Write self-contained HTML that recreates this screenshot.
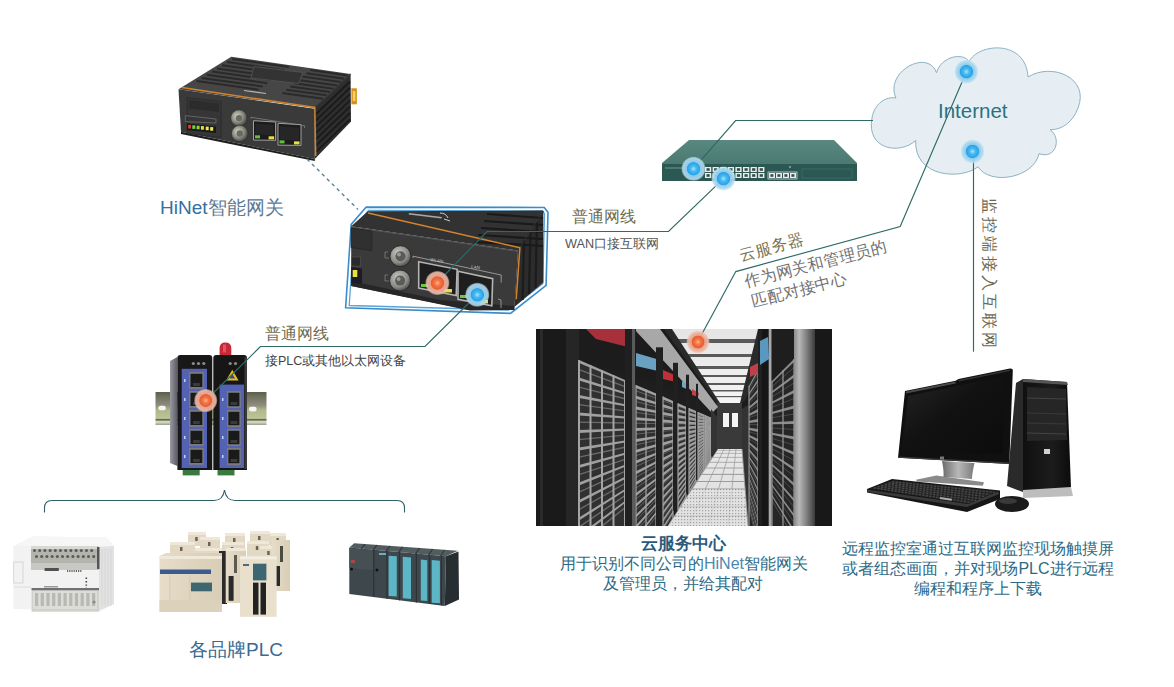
<!DOCTYPE html>
<html><head><meta charset="utf-8">
<style>
html,body{margin:0;padding:0;background:#fff;}
body{width:1174px;height:687px;position:relative;overflow:hidden;font-family:"Liberation Sans",sans-serif;}
.t{position:absolute;white-space:nowrap;line-height:1;}
svg{position:absolute;left:0;top:0;}
</style></head><body>
<svg width="1174" height="687" viewBox="0 0 1174 687">
<defs>
<radialGradient id="bd" cx="50%" cy="50%" r="50%">
<stop offset="0" stop-color="#a8e4f8"/><stop offset="0.25" stop-color="#44b8f0"/><stop offset="0.52" stop-color="#2aa2e8"/><stop offset="0.58" stop-color="#8ccbea"/><stop offset="0.88" stop-color="#b4dcf0" stop-opacity="0.9"/><stop offset="1" stop-color="#c8e6f4" stop-opacity="0.4"/>
</radialGradient>
<radialGradient id="rd" cx="50%" cy="50%" r="50%">
<stop offset="0" stop-color="#f8b488"/><stop offset="0.25" stop-color="#f27444"/><stop offset="0.52" stop-color="#ea5c30"/><stop offset="0.58" stop-color="#e8a08a"/><stop offset="0.88" stop-color="#f0bcac" stop-opacity="0.9"/><stop offset="1" stop-color="#f4d0c4" stop-opacity="0.4"/>
</radialGradient>
</defs>

<!-- cloud -->
<path d="M896,98 C884,72 928,48 936.5,72.8 C941,56 964,52 969,61.8 C978,43 1026,39 1028,77 C1052,62 1090,78 1078,108 C1072,124 1060,130 1050,129.6 C1062,138 1056,160 1039,153.6 C1034,178 990,186 978,166.7 C962,180 914,178 915.7,140.5 C900,155 866,150 872,118 C874,104 886,96 896,98 Z" fill="#e6eef4" stroke="#8cb2c2" stroke-width="1"/>
<!-- brace -->
<path d="M44.5,512.5 L44.5,508 Q44.5,500.5 52,500.5 L214,500.5 Q223,500.5 224.5,490 Q226,500.5 235,500.5 L397,500.5 Q404.5,500.5 404.5,508 L404.5,512.5" fill="none" stroke="#2f6068" stroke-width="1.1"/>

<g transform="translate(536,329)">
<defs><clipPath id="sc"><rect x="0" y="0" width="296" height="197"/></clipPath><linearGradient id="ceil" x1="0" y1="0" x2="0" y2="1"><stop offset="0" stop-color="#e4e4e4"/><stop offset="1" stop-color="#f4f4f4"/></linearGradient><linearGradient id="flr" x1="0" y1="0" x2="0" y2="1"><stop offset="0" stop-color="#e8e8e8"/><stop offset="1" stop-color="#dcdcdc"/></linearGradient><pattern id="perf" width="3" height="3" patternUnits="userSpaceOnUse"><rect width="3" height="3" fill="#e4e4e4"/><rect x="1" y="1" width="1.2" height="1.2" fill="#8a8a8a"/></pattern><linearGradient id="lcol" x1="0" y1="0" x2="1" y2="0"><stop offset="0" stop-color="#8a8a8a"/><stop offset="0.25" stop-color="#b8b8b8"/><stop offset="0.6" stop-color="#808080"/><stop offset="1" stop-color="#3a3a3a"/></linearGradient></defs>
<g clip-path="url(#sc)">
<rect x="0" y="0" width="296" height="197" fill="#1e1e1e"/>
<polygon points="128,0 232,0 206,74 181,74" fill="url(#ceil)"/>
<rect x="135.2" y="10" width="93.3" height="4" fill="#5a5a5a"/>
<rect x="145.9" y="25" width="77.3" height="3" fill="#5a5a5a"/>
<rect x="154.5" y="37" width="64.5" height="3" fill="#5a5a5a"/>
<rect x="160.9" y="46" width="54.9" height="2" fill="#5a5a5a"/>
<rect x="166.7" y="54" width="46.4" height="2" fill="#5a5a5a"/>
<rect x="171.7" y="61" width="38.9" height="1.5" fill="#5a5a5a"/>
<rect x="176.0" y="67" width="32.5" height="1.2" fill="#5a5a5a"/>
<polygon points="124,0 136,0 184,74 181,76" fill="#2a2a2a"/>
<polygon points="222,0 236,0 208,74 204,74" fill="#2a2a2a"/>
<rect x="181" y="74" width="25" height="46" fill="#3a3a3a"/>
<rect x="187" y="84" width="6" height="14" fill="#f4f4f4"/><rect x="196" y="84" width="6" height="14" fill="#f4f4f4"/>
<rect x="0" y="0" width="43" height="197" fill="#1a1a1a"/>
<rect x="30" y="0" width="13" height="197" fill="#262626"/>
<rect x="4" y="0" width="3" height="197" fill="#2a2a2a"/>
<polygon points="43,0 128,0 181,74 43,30" fill="#1c1c1c"/>
<polygon points="98,0 124,0 182,78 176,84" fill="#a8a8a8"/>
<polygon points="50,0 95,0 92,18 60,10" fill="#a8303a"/>
<polygon points="100,24 124,31 122,42 100,37" fill="#6aa0c0"/>
<polygon points="127,41 141,47 140,53 127,50" fill="#c03038"/>
<polygon points="146,52 154,56 153,61 146,58" fill="#70a8c0"/>
<polygon points="156,60 163,64 162,68 156,66" fill="#c04048"/>
<polygon points="43,31.0 89,51.1 89,200.0 43,200.0" fill="#303030"/>
<polygon points="43,31.0 89,51.1 89,53.1 43,34.0" fill="#a0a0a0"/>
<line x1="43" y1="40.6" x2="89" y2="57.7" stroke="#6a6a6a" stroke-width="1.40"/>
<polygon points="43,48.5 89,63.2 89,65.2 43,51.5" fill="#a0a0a0"/>
<line x1="43" y1="58.1" x2="89" y2="69.8" stroke="#6a6a6a" stroke-width="1.40"/>
<polygon points="43,66.0 89,75.3 89,77.3 43,69.0" fill="#a0a0a0"/>
<line x1="43" y1="75.6" x2="89" y2="81.9" stroke="#6a6a6a" stroke-width="1.40"/>
<polygon points="43,83.5 89,87.4 89,89.4 43,86.5" fill="#a0a0a0"/>
<line x1="43" y1="93.1" x2="89" y2="94.0" stroke="#6a6a6a" stroke-width="1.40"/>
<polygon points="43,101.0 89,99.5 89,101.5 43,104.0" fill="#a0a0a0"/>
<line x1="43" y1="110.6" x2="89" y2="106.1" stroke="#6a6a6a" stroke-width="1.40"/>
<polygon points="43,118.5 89,111.6 89,113.6 43,121.5" fill="#a0a0a0"/>
<line x1="43" y1="128.1" x2="89" y2="118.2" stroke="#6a6a6a" stroke-width="1.40"/>
<polygon points="43,136.0 89,123.7 89,125.7 43,139.0" fill="#a0a0a0"/>
<line x1="43" y1="145.6" x2="89" y2="130.3" stroke="#6a6a6a" stroke-width="1.40"/>
<polygon points="43,153.5 89,135.7 89,137.8 43,156.5" fill="#a0a0a0"/>
<line x1="43" y1="163.1" x2="89" y2="142.4" stroke="#6a6a6a" stroke-width="1.40"/>
<polygon points="43,171.0 89,147.8 89,149.9 43,174.0" fill="#a0a0a0"/>
<line x1="43" y1="180.6" x2="89" y2="154.5" stroke="#6a6a6a" stroke-width="1.40"/>
<polygon points="43,188.5 89,159.9 89,162.0 43,191.5" fill="#a0a0a0"/>
<line x1="43" y1="198.1" x2="89" y2="166.6" stroke="#6a6a6a" stroke-width="1.40"/>
<polygon points="43,206.0 89,172.0 89,174.1 43,209.0" fill="#a0a0a0"/>
<line x1="43" y1="215.6" x2="89" y2="178.7" stroke="#6a6a6a" stroke-width="1.40"/>
<line x1="43.0" y1="31.0" x2="43.0" y2="200.0" stroke="#a4a4a4" stroke-width="2.0"/>
<line x1="54.5" y1="36.0" x2="54.5" y2="200.0" stroke="#a4a4a4" stroke-width="2.0"/>
<line x1="66.0" y1="41.0" x2="66.0" y2="200.0" stroke="#a4a4a4" stroke-width="2.0"/>
<line x1="77.5" y1="46.1" x2="77.5" y2="200.0" stroke="#a4a4a4" stroke-width="2.0"/>
<line x1="89.0" y1="51.1" x2="89.0" y2="200.0" stroke="#a4a4a4" stroke-width="2.0"/>
<rect x="89" y="0.0" width="11" height="200.0" fill="#202020"/>
<rect x="96" y="0.0" width="3" height="200.0" fill="#5a5a5a"/>
<polygon points="100,55.9 120,64.6 120,200.0 100,200.0" fill="#303030"/>
<polygon points="100,55.9 120,64.6 120,66.9 100,58.9" fill="#a0a0a0"/>
<line x1="100" y1="61.8" x2="120" y2="69.2" stroke="#6a6a6a" stroke-width="0.86"/>
<polygon points="100,66.7 120,73.0 120,75.4 100,69.7" fill="#a0a0a0"/>
<line x1="100" y1="72.6" x2="120" y2="77.7" stroke="#6a6a6a" stroke-width="0.86"/>
<polygon points="100,77.5 120,81.5 120,83.9 100,80.5" fill="#a0a0a0"/>
<line x1="100" y1="83.4" x2="120" y2="86.2" stroke="#6a6a6a" stroke-width="0.86"/>
<polygon points="100,88.3 120,90.0 120,92.3 100,91.3" fill="#a0a0a0"/>
<line x1="100" y1="94.2" x2="120" y2="94.6" stroke="#6a6a6a" stroke-width="0.86"/>
<polygon points="100,99.1 120,98.4 120,100.8 100,102.1" fill="#a0a0a0"/>
<line x1="100" y1="105.0" x2="120" y2="103.1" stroke="#6a6a6a" stroke-width="0.86"/>
<polygon points="100,109.9 120,106.9 120,109.2 100,112.9" fill="#a0a0a0"/>
<line x1="100" y1="115.8" x2="120" y2="111.5" stroke="#6a6a6a" stroke-width="0.86"/>
<polygon points="100,120.7 120,115.3 120,117.7 100,123.7" fill="#a0a0a0"/>
<line x1="100" y1="126.6" x2="120" y2="120.0" stroke="#6a6a6a" stroke-width="0.86"/>
<polygon points="100,131.5 120,123.8 120,126.1 100,134.5" fill="#a0a0a0"/>
<line x1="100" y1="137.4" x2="120" y2="128.4" stroke="#6a6a6a" stroke-width="0.86"/>
<polygon points="100,142.3 120,132.2 120,134.6 100,145.3" fill="#a0a0a0"/>
<line x1="100" y1="148.3" x2="120" y2="136.9" stroke="#6a6a6a" stroke-width="0.86"/>
<polygon points="100,153.1 120,140.7 120,143.0 100,156.1" fill="#a0a0a0"/>
<line x1="100" y1="159.1" x2="120" y2="145.3" stroke="#6a6a6a" stroke-width="0.86"/>
<polygon points="100,163.9 120,149.2 120,151.5 100,166.9" fill="#a0a0a0"/>
<line x1="100" y1="169.9" x2="120" y2="153.8" stroke="#6a6a6a" stroke-width="0.86"/>
<polygon points="100,174.7 120,157.6 120,160.0 100,177.7" fill="#a0a0a0"/>
<line x1="100" y1="180.7" x2="120" y2="162.3" stroke="#6a6a6a" stroke-width="0.86"/>
<polygon points="100,185.5 120,166.1 120,168.4 100,188.5" fill="#a0a0a0"/>
<line x1="100" y1="191.5" x2="120" y2="170.7" stroke="#6a6a6a" stroke-width="0.86"/>
<polygon points="100,196.3 120,174.5 120,176.9 100,199.3" fill="#a0a0a0"/>
<line x1="100" y1="202.3" x2="120" y2="179.2" stroke="#6a6a6a" stroke-width="0.86"/>
<polygon points="100,207.1 120,183.0 120,185.3 100,210.1" fill="#a0a0a0"/>
<line x1="100" y1="213.1" x2="120" y2="187.6" stroke="#6a6a6a" stroke-width="0.86"/>
<line x1="100.0" y1="55.9" x2="100.0" y2="200.0" stroke="#a4a4a4" stroke-width="1.2"/>
<line x1="110.0" y1="60.2" x2="110.0" y2="200.0" stroke="#a4a4a4" stroke-width="1.2"/>
<line x1="120.0" y1="64.6" x2="120.0" y2="200.0" stroke="#a4a4a4" stroke-width="1.2"/>
<rect x="120" y="18.3" width="7" height="181.7" fill="#202020"/>
<polygon points="127,67.6 137,72.0 137,189.3 127,200.0" fill="#303030"/>
<polygon points="127,67.6 137,72.0 137,74.5 127,70.6" fill="#a0a0a0"/>
<line x1="127" y1="71.8" x2="137" y2="75.6" stroke="#6a6a6a" stroke-width="0.61"/>
<polygon points="127,75.3 137,78.5 137,81.0 127,78.3" fill="#a0a0a0"/>
<line x1="127" y1="79.5" x2="137" y2="82.0" stroke="#6a6a6a" stroke-width="0.61"/>
<polygon points="127,82.9 137,84.9 137,87.5 127,85.9" fill="#a0a0a0"/>
<line x1="127" y1="87.1" x2="137" y2="88.5" stroke="#6a6a6a" stroke-width="0.61"/>
<polygon points="127,90.5 137,91.4 137,93.9 127,93.5" fill="#a0a0a0"/>
<line x1="127" y1="94.7" x2="137" y2="94.9" stroke="#6a6a6a" stroke-width="0.61"/>
<polygon points="127,98.2 137,97.8 137,100.4 127,101.2" fill="#a0a0a0"/>
<line x1="127" y1="102.4" x2="137" y2="101.4" stroke="#6a6a6a" stroke-width="0.61"/>
<polygon points="127,105.8 137,104.3 137,106.8 127,108.8" fill="#a0a0a0"/>
<line x1="127" y1="110.0" x2="137" y2="107.9" stroke="#6a6a6a" stroke-width="0.61"/>
<polygon points="127,113.4 137,110.8 137,113.3 127,116.4" fill="#a0a0a0"/>
<line x1="127" y1="117.6" x2="137" y2="114.3" stroke="#6a6a6a" stroke-width="0.61"/>
<polygon points="127,121.1 137,117.2 137,119.8 127,124.1" fill="#a0a0a0"/>
<line x1="127" y1="125.3" x2="137" y2="120.8" stroke="#6a6a6a" stroke-width="0.61"/>
<polygon points="127,128.7 137,123.7 137,126.2 127,131.7" fill="#a0a0a0"/>
<line x1="127" y1="132.9" x2="137" y2="127.2" stroke="#6a6a6a" stroke-width="0.61"/>
<polygon points="127,136.4 137,130.1 137,132.7 127,139.4" fill="#a0a0a0"/>
<line x1="127" y1="140.6" x2="137" y2="133.7" stroke="#6a6a6a" stroke-width="0.61"/>
<polygon points="127,144.0 137,136.6 137,139.1 127,147.0" fill="#a0a0a0"/>
<line x1="127" y1="148.2" x2="137" y2="140.2" stroke="#6a6a6a" stroke-width="0.61"/>
<polygon points="127,151.6 137,143.1 137,145.6 127,154.6" fill="#a0a0a0"/>
<line x1="127" y1="155.8" x2="137" y2="146.6" stroke="#6a6a6a" stroke-width="0.61"/>
<polygon points="127,159.3 137,149.5 137,152.1 127,162.3" fill="#a0a0a0"/>
<line x1="127" y1="163.5" x2="137" y2="153.1" stroke="#6a6a6a" stroke-width="0.61"/>
<polygon points="127,166.9 137,156.0 137,158.5 127,169.9" fill="#a0a0a0"/>
<line x1="127" y1="171.1" x2="137" y2="159.5" stroke="#6a6a6a" stroke-width="0.61"/>
<polygon points="127,174.5 137,162.4 137,165.0 127,177.5" fill="#a0a0a0"/>
<line x1="127" y1="178.7" x2="137" y2="166.0" stroke="#6a6a6a" stroke-width="0.61"/>
<polygon points="127,182.2 137,168.9 137,171.4 127,185.2" fill="#a0a0a0"/>
<line x1="127" y1="186.4" x2="137" y2="172.5" stroke="#6a6a6a" stroke-width="0.61"/>
<polygon points="127,189.8 137,175.4 137,177.9 127,192.8" fill="#a0a0a0"/>
<line x1="127" y1="194.0" x2="137" y2="178.9" stroke="#6a6a6a" stroke-width="0.61"/>
<polygon points="127,197.4 137,181.8 137,184.4 127,200.4" fill="#a0a0a0"/>
<line x1="127" y1="201.6" x2="137" y2="185.4" stroke="#6a6a6a" stroke-width="0.61"/>
<polygon points="127,205.1 137,188.3 137,190.8 127,208.1" fill="#a0a0a0"/>
<line x1="127" y1="209.3" x2="137" y2="191.8" stroke="#6a6a6a" stroke-width="0.61"/>
<polygon points="127,212.7 137,194.7 137,197.3 127,215.7" fill="#a0a0a0"/>
<line x1="127" y1="216.9" x2="137" y2="198.3" stroke="#6a6a6a" stroke-width="0.61"/>
<line x1="127.0" y1="67.6" x2="127.0" y2="200.0" stroke="#a4a4a4" stroke-width="1.2"/>
<line x1="137.0" y1="72.0" x2="137.0" y2="189.3" stroke="#a4a4a4" stroke-width="1.2"/>
<rect x="137" y="33.8" width="5" height="147.8" fill="#202020"/>
<polygon points="142,74.2 150,77.7 150,169.3 142,181.6" fill="#303030"/>
<polygon points="142,74.2 150,77.7 150,80.2 142,77.2" fill="#a0a0a0"/>
<line x1="142" y1="77.4" x2="150" y2="80.4" stroke="#6a6a6a" stroke-width="0.47"/>
<polygon points="142,80.1 150,82.6 150,85.1 142,83.1" fill="#a0a0a0"/>
<line x1="142" y1="83.3" x2="150" y2="85.3" stroke="#6a6a6a" stroke-width="0.47"/>
<polygon points="142,85.9 150,87.5 150,90.1 142,88.9" fill="#a0a0a0"/>
<line x1="142" y1="89.2" x2="150" y2="90.3" stroke="#6a6a6a" stroke-width="0.47"/>
<polygon points="142,91.8 150,92.5 150,95.0 142,94.8" fill="#a0a0a0"/>
<line x1="142" y1="95.0" x2="150" y2="95.2" stroke="#6a6a6a" stroke-width="0.47"/>
<polygon points="142,97.7 150,97.4 150,99.9 142,100.7" fill="#a0a0a0"/>
<line x1="142" y1="100.9" x2="150" y2="100.1" stroke="#6a6a6a" stroke-width="0.47"/>
<polygon points="142,103.6 150,102.3 150,104.9 142,106.6" fill="#a0a0a0"/>
<line x1="142" y1="106.8" x2="150" y2="105.1" stroke="#6a6a6a" stroke-width="0.47"/>
<polygon points="142,109.4 150,107.3 150,109.8 142,112.4" fill="#a0a0a0"/>
<line x1="142" y1="112.7" x2="150" y2="110.0" stroke="#6a6a6a" stroke-width="0.47"/>
<polygon points="142,115.3 150,112.2 150,114.7 142,118.3" fill="#a0a0a0"/>
<line x1="142" y1="118.5" x2="150" y2="114.9" stroke="#6a6a6a" stroke-width="0.47"/>
<polygon points="142,121.2 150,117.1 150,119.7 142,124.2" fill="#a0a0a0"/>
<line x1="142" y1="124.4" x2="150" y2="119.9" stroke="#6a6a6a" stroke-width="0.47"/>
<polygon points="142,127.0 150,122.1 150,124.6 142,130.0" fill="#a0a0a0"/>
<line x1="142" y1="130.3" x2="150" y2="124.8" stroke="#6a6a6a" stroke-width="0.47"/>
<polygon points="142,132.9 150,127.0 150,129.5 142,135.9" fill="#a0a0a0"/>
<line x1="142" y1="136.1" x2="150" y2="129.7" stroke="#6a6a6a" stroke-width="0.47"/>
<polygon points="142,138.8 150,131.9 150,134.5 142,141.8" fill="#a0a0a0"/>
<line x1="142" y1="142.0" x2="150" y2="134.7" stroke="#6a6a6a" stroke-width="0.47"/>
<polygon points="142,144.7 150,136.9 150,139.4 142,147.7" fill="#a0a0a0"/>
<line x1="142" y1="147.9" x2="150" y2="139.6" stroke="#6a6a6a" stroke-width="0.47"/>
<polygon points="142,150.5 150,141.8 150,144.3 142,153.5" fill="#a0a0a0"/>
<line x1="142" y1="153.8" x2="150" y2="144.5" stroke="#6a6a6a" stroke-width="0.47"/>
<polygon points="142,156.4 150,146.7 150,149.3 142,159.4" fill="#a0a0a0"/>
<line x1="142" y1="159.6" x2="150" y2="149.5" stroke="#6a6a6a" stroke-width="0.47"/>
<polygon points="142,162.3 150,151.7 150,154.2 142,165.3" fill="#a0a0a0"/>
<line x1="142" y1="165.5" x2="150" y2="154.4" stroke="#6a6a6a" stroke-width="0.47"/>
<polygon points="142,168.1 150,156.6 150,159.1 142,171.1" fill="#a0a0a0"/>
<line x1="142" y1="171.4" x2="150" y2="159.3" stroke="#6a6a6a" stroke-width="0.47"/>
<polygon points="142,174.0 150,161.5 150,164.1 142,177.0" fill="#a0a0a0"/>
<line x1="142" y1="177.2" x2="150" y2="164.2" stroke="#6a6a6a" stroke-width="0.47"/>
<polygon points="142,179.9 150,166.5 150,169.0 142,182.9" fill="#a0a0a0"/>
<line x1="142" y1="183.1" x2="150" y2="169.2" stroke="#6a6a6a" stroke-width="0.47"/>
<polygon points="142,185.8 150,171.4 150,173.9 142,188.8" fill="#a0a0a0"/>
<line x1="142" y1="189.0" x2="150" y2="174.1" stroke="#6a6a6a" stroke-width="0.47"/>
<polygon points="142,191.6 150,176.3 150,178.9 142,194.6" fill="#a0a0a0"/>
<line x1="142" y1="194.9" x2="150" y2="179.0" stroke="#6a6a6a" stroke-width="0.47"/>
<polygon points="142,197.5 150,181.3 150,183.8 142,200.5" fill="#a0a0a0"/>
<line x1="142" y1="200.7" x2="150" y2="184.0" stroke="#6a6a6a" stroke-width="0.47"/>
<polygon points="142,203.4 150,186.2 150,188.7 142,206.4" fill="#a0a0a0"/>
<line x1="142" y1="206.6" x2="150" y2="188.9" stroke="#6a6a6a" stroke-width="0.47"/>
<polygon points="142,209.3 150,191.1 150,193.7 142,212.3" fill="#a0a0a0"/>
<line x1="142" y1="212.5" x2="150" y2="193.8" stroke="#6a6a6a" stroke-width="0.47"/>
<line x1="142.0" y1="74.2" x2="142.0" y2="181.6" stroke="#a4a4a4" stroke-width="1.2"/>
<line x1="150.0" y1="77.7" x2="150.0" y2="169.3" stroke="#a4a4a4" stroke-width="1.2"/>
<rect x="150" y="45.7" width="3" height="119.0" fill="#202020"/>
<polygon points="153,79.0 160,82.0 160,153.9 153,164.7" fill="#303030"/>
<polygon points="153,79.0 160,82.0 160,84.5 153,82.0" fill="#a0a0a0"/>
<line x1="153" y1="81.5" x2="160" y2="84.1" stroke="#6a6a6a" stroke-width="0.37"/>
<polygon points="153,83.6 160,85.8 160,88.3 153,86.6" fill="#a0a0a0"/>
<line x1="153" y1="86.1" x2="160" y2="87.9" stroke="#6a6a6a" stroke-width="0.37"/>
<polygon points="153,88.1 160,89.6 160,92.0 153,91.1" fill="#a0a0a0"/>
<line x1="153" y1="90.7" x2="160" y2="91.6" stroke="#6a6a6a" stroke-width="0.37"/>
<polygon points="153,92.7 160,93.3 160,95.8 153,95.7" fill="#a0a0a0"/>
<line x1="153" y1="95.2" x2="160" y2="95.4" stroke="#6a6a6a" stroke-width="0.37"/>
<polygon points="153,97.3 160,97.1 160,99.5 153,100.3" fill="#a0a0a0"/>
<line x1="153" y1="99.8" x2="160" y2="99.1" stroke="#6a6a6a" stroke-width="0.37"/>
<polygon points="153,101.9 160,100.8 160,103.3 153,104.9" fill="#a0a0a0"/>
<line x1="153" y1="104.4" x2="160" y2="102.9" stroke="#6a6a6a" stroke-width="0.37"/>
<polygon points="153,106.5 160,104.6 160,107.1 153,109.5" fill="#a0a0a0"/>
<line x1="153" y1="109.0" x2="160" y2="106.7" stroke="#6a6a6a" stroke-width="0.37"/>
<polygon points="153,111.1 160,108.3 160,110.8 153,114.1" fill="#a0a0a0"/>
<line x1="153" y1="113.6" x2="160" y2="110.4" stroke="#6a6a6a" stroke-width="0.37"/>
<polygon points="153,115.6 160,112.1 160,114.6 153,118.6" fill="#a0a0a0"/>
<line x1="153" y1="118.2" x2="160" y2="114.2" stroke="#6a6a6a" stroke-width="0.37"/>
<polygon points="153,120.2 160,115.9 160,118.3 153,123.2" fill="#a0a0a0"/>
<line x1="153" y1="122.7" x2="160" y2="117.9" stroke="#6a6a6a" stroke-width="0.37"/>
<polygon points="153,124.8 160,119.6 160,122.1 153,127.8" fill="#a0a0a0"/>
<line x1="153" y1="127.3" x2="160" y2="121.7" stroke="#6a6a6a" stroke-width="0.37"/>
<polygon points="153,129.4 160,123.4 160,125.8 153,132.4" fill="#a0a0a0"/>
<line x1="153" y1="131.9" x2="160" y2="125.4" stroke="#6a6a6a" stroke-width="0.37"/>
<polygon points="153,134.0 160,127.1 160,129.6 153,137.0" fill="#a0a0a0"/>
<line x1="153" y1="136.5" x2="160" y2="129.2" stroke="#6a6a6a" stroke-width="0.37"/>
<polygon points="153,138.5 160,130.9 160,133.4 153,141.5" fill="#a0a0a0"/>
<line x1="153" y1="141.1" x2="160" y2="133.0" stroke="#6a6a6a" stroke-width="0.37"/>
<polygon points="153,143.1 160,134.7 160,137.1 153,146.1" fill="#a0a0a0"/>
<line x1="153" y1="145.6" x2="160" y2="136.7" stroke="#6a6a6a" stroke-width="0.37"/>
<polygon points="153,147.7 160,138.4 160,140.9 153,150.7" fill="#a0a0a0"/>
<line x1="153" y1="150.2" x2="160" y2="140.5" stroke="#6a6a6a" stroke-width="0.37"/>
<polygon points="153,152.3 160,142.2 160,144.6 153,155.3" fill="#a0a0a0"/>
<line x1="153" y1="154.8" x2="160" y2="144.2" stroke="#6a6a6a" stroke-width="0.37"/>
<polygon points="153,156.9 160,145.9 160,148.4 153,159.9" fill="#a0a0a0"/>
<line x1="153" y1="159.4" x2="160" y2="148.0" stroke="#6a6a6a" stroke-width="0.37"/>
<polygon points="153,161.4 160,149.7 160,152.2 153,164.4" fill="#a0a0a0"/>
<line x1="153" y1="164.0" x2="160" y2="151.8" stroke="#6a6a6a" stroke-width="0.37"/>
<polygon points="153,166.0 160,153.4 160,155.9 153,169.0" fill="#a0a0a0"/>
<line x1="153" y1="168.5" x2="160" y2="155.5" stroke="#6a6a6a" stroke-width="0.37"/>
<polygon points="153,170.6 160,157.2 160,159.7 153,173.6" fill="#a0a0a0"/>
<line x1="153" y1="173.1" x2="160" y2="159.3" stroke="#6a6a6a" stroke-width="0.37"/>
<polygon points="153,175.2 160,161.0 160,163.4 153,178.2" fill="#a0a0a0"/>
<line x1="153" y1="177.7" x2="160" y2="163.0" stroke="#6a6a6a" stroke-width="0.37"/>
<polygon points="153,179.8 160,164.7 160,167.2 153,182.8" fill="#a0a0a0"/>
<line x1="153" y1="182.3" x2="160" y2="166.8" stroke="#6a6a6a" stroke-width="0.37"/>
<polygon points="153,184.3 160,168.5 160,170.9 153,187.3" fill="#a0a0a0"/>
<line x1="153" y1="186.9" x2="160" y2="170.6" stroke="#6a6a6a" stroke-width="0.37"/>
<polygon points="153,188.9 160,172.2 160,174.7 153,191.9" fill="#a0a0a0"/>
<line x1="153" y1="191.4" x2="160" y2="174.3" stroke="#6a6a6a" stroke-width="0.37"/>
<polygon points="153,193.5 160,176.0 160,178.5 153,196.5" fill="#a0a0a0"/>
<line x1="153" y1="196.0" x2="160" y2="178.1" stroke="#6a6a6a" stroke-width="0.37"/>
<polygon points="153,198.1 160,179.8 160,182.2 153,201.1" fill="#a0a0a0"/>
<line x1="153" y1="200.6" x2="160" y2="181.8" stroke="#6a6a6a" stroke-width="0.37"/>
<polygon points="153,202.7 160,183.5 160,186.0 153,205.7" fill="#a0a0a0"/>
<line x1="153" y1="205.2" x2="160" y2="185.6" stroke="#6a6a6a" stroke-width="0.37"/>
<polygon points="153,207.2 160,187.3 160,189.7 153,210.2" fill="#a0a0a0"/>
<line x1="153" y1="209.8" x2="160" y2="189.3" stroke="#6a6a6a" stroke-width="0.37"/>
<polygon points="153,211.8 160,191.0 160,193.5 153,214.8" fill="#a0a0a0"/>
<line x1="153" y1="214.3" x2="160" y2="193.1" stroke="#6a6a6a" stroke-width="0.37"/>
<line x1="153.0" y1="79.0" x2="153.0" y2="164.7" stroke="#a4a4a4" stroke-width="1.2"/>
<line x1="160.0" y1="82.0" x2="160.0" y2="153.9" stroke="#a4a4a4" stroke-width="1.2"/>
<rect x="160" y="54.8" width="2" height="96.0" fill="#202020"/>
<polygon points="162,82.9 168,85.5 168,141.6 162,150.8" fill="#303030"/>
<polygon points="162,82.9 168,85.5 168,87.9 162,85.9" fill="#a0a0a0"/>
<line x1="162" y1="84.9" x2="168" y2="87.1" stroke="#6a6a6a" stroke-width="0.28"/>
<polygon points="162,86.4 168,88.3 168,90.7 162,89.4" fill="#a0a0a0"/>
<line x1="162" y1="88.4" x2="168" y2="89.9" stroke="#6a6a6a" stroke-width="0.28"/>
<polygon points="162,90.0 168,91.2 168,93.6 162,93.0" fill="#a0a0a0"/>
<line x1="162" y1="91.9" x2="168" y2="92.7" stroke="#6a6a6a" stroke-width="0.28"/>
<polygon points="162,93.5 168,94.0 168,96.4 162,96.5" fill="#a0a0a0"/>
<line x1="162" y1="95.4" x2="168" y2="95.5" stroke="#6a6a6a" stroke-width="0.28"/>
<polygon points="162,97.0 168,96.8 168,99.2 162,100.0" fill="#a0a0a0"/>
<line x1="162" y1="98.9" x2="168" y2="98.4" stroke="#6a6a6a" stroke-width="0.28"/>
<polygon points="162,100.5 168,99.6 168,102.0 162,103.5" fill="#a0a0a0"/>
<line x1="162" y1="102.5" x2="168" y2="101.2" stroke="#6a6a6a" stroke-width="0.28"/>
<polygon points="162,104.1 168,102.4 168,104.8 162,107.1" fill="#a0a0a0"/>
<line x1="162" y1="106.0" x2="168" y2="104.0" stroke="#6a6a6a" stroke-width="0.28"/>
<polygon points="162,107.6 168,105.3 168,107.7 162,110.6" fill="#a0a0a0"/>
<line x1="162" y1="109.5" x2="168" y2="106.8" stroke="#6a6a6a" stroke-width="0.28"/>
<polygon points="162,111.1 168,108.1 168,110.5 162,114.1" fill="#a0a0a0"/>
<line x1="162" y1="113.0" x2="168" y2="109.6" stroke="#6a6a6a" stroke-width="0.28"/>
<polygon points="162,114.6 168,110.9 168,113.3 162,117.6" fill="#a0a0a0"/>
<line x1="162" y1="116.6" x2="168" y2="112.4" stroke="#6a6a6a" stroke-width="0.28"/>
<polygon points="162,118.1 168,113.7 168,116.1 162,121.1" fill="#a0a0a0"/>
<line x1="162" y1="120.1" x2="168" y2="115.3" stroke="#6a6a6a" stroke-width="0.28"/>
<polygon points="162,121.7 168,116.5 168,118.9 162,124.7" fill="#a0a0a0"/>
<line x1="162" y1="123.6" x2="168" y2="118.1" stroke="#6a6a6a" stroke-width="0.28"/>
<polygon points="162,125.2 168,119.4 168,121.8 162,128.2" fill="#a0a0a0"/>
<line x1="162" y1="127.1" x2="168" y2="120.9" stroke="#6a6a6a" stroke-width="0.28"/>
<polygon points="162,128.7 168,122.2 168,124.6 162,131.7" fill="#a0a0a0"/>
<line x1="162" y1="130.7" x2="168" y2="123.7" stroke="#6a6a6a" stroke-width="0.28"/>
<polygon points="162,132.2 168,125.0 168,127.4 162,135.2" fill="#a0a0a0"/>
<line x1="162" y1="134.2" x2="168" y2="126.5" stroke="#6a6a6a" stroke-width="0.28"/>
<polygon points="162,135.8 168,127.8 168,130.2 162,138.8" fill="#a0a0a0"/>
<line x1="162" y1="137.7" x2="168" y2="129.4" stroke="#6a6a6a" stroke-width="0.28"/>
<polygon points="162,139.3 168,130.6 168,133.0 162,142.3" fill="#a0a0a0"/>
<line x1="162" y1="141.2" x2="168" y2="132.2" stroke="#6a6a6a" stroke-width="0.28"/>
<polygon points="162,142.8 168,133.4 168,135.8 162,145.8" fill="#a0a0a0"/>
<line x1="162" y1="144.7" x2="168" y2="135.0" stroke="#6a6a6a" stroke-width="0.28"/>
<polygon points="162,146.3 168,136.3 168,138.7 162,149.3" fill="#a0a0a0"/>
<line x1="162" y1="148.3" x2="168" y2="137.8" stroke="#6a6a6a" stroke-width="0.28"/>
<polygon points="162,149.9 168,139.1 168,141.5 162,152.9" fill="#a0a0a0"/>
<line x1="162" y1="151.8" x2="168" y2="140.6" stroke="#6a6a6a" stroke-width="0.28"/>
<polygon points="162,153.4 168,141.9 168,144.3 162,156.4" fill="#a0a0a0"/>
<line x1="162" y1="155.3" x2="168" y2="143.5" stroke="#6a6a6a" stroke-width="0.28"/>
<polygon points="162,156.9 168,144.7 168,147.1 162,159.9" fill="#a0a0a0"/>
<line x1="162" y1="158.8" x2="168" y2="146.3" stroke="#6a6a6a" stroke-width="0.28"/>
<polygon points="162,160.4 168,147.5 168,149.9 162,163.4" fill="#a0a0a0"/>
<line x1="162" y1="162.4" x2="168" y2="149.1" stroke="#6a6a6a" stroke-width="0.28"/>
<polygon points="162,164.0 168,150.4 168,152.8 162,167.0" fill="#a0a0a0"/>
<line x1="162" y1="165.9" x2="168" y2="151.9" stroke="#6a6a6a" stroke-width="0.28"/>
<polygon points="162,167.5 168,153.2 168,155.6 162,170.5" fill="#a0a0a0"/>
<line x1="162" y1="169.4" x2="168" y2="154.7" stroke="#6a6a6a" stroke-width="0.28"/>
<polygon points="162,171.0 168,156.0 168,158.4 162,174.0" fill="#a0a0a0"/>
<line x1="162" y1="172.9" x2="168" y2="157.6" stroke="#6a6a6a" stroke-width="0.28"/>
<polygon points="162,174.5 168,158.8 168,161.2 162,177.5" fill="#a0a0a0"/>
<line x1="162" y1="176.5" x2="168" y2="160.4" stroke="#6a6a6a" stroke-width="0.28"/>
<polygon points="162,178.0 168,161.6 168,164.0 162,181.0" fill="#a0a0a0"/>
<line x1="162" y1="180.0" x2="168" y2="163.2" stroke="#6a6a6a" stroke-width="0.28"/>
<polygon points="162,181.6 168,164.5 168,166.9 162,184.6" fill="#a0a0a0"/>
<line x1="162" y1="183.5" x2="168" y2="166.0" stroke="#6a6a6a" stroke-width="0.28"/>
<polygon points="162,185.1 168,167.3 168,169.7 162,188.1" fill="#a0a0a0"/>
<line x1="162" y1="187.0" x2="168" y2="168.8" stroke="#6a6a6a" stroke-width="0.28"/>
<polygon points="162,188.6 168,170.1 168,172.5 162,191.6" fill="#a0a0a0"/>
<line x1="162" y1="190.6" x2="168" y2="171.6" stroke="#6a6a6a" stroke-width="0.28"/>
<polygon points="162,192.1 168,172.9 168,175.3 162,195.1" fill="#a0a0a0"/>
<line x1="162" y1="194.1" x2="168" y2="174.5" stroke="#6a6a6a" stroke-width="0.28"/>
<polygon points="162,195.7 168,175.7 168,178.1 162,198.7" fill="#a0a0a0"/>
<line x1="162" y1="197.6" x2="168" y2="177.3" stroke="#6a6a6a" stroke-width="0.28"/>
<polygon points="162,199.2 168,178.6 168,181.0 162,202.2" fill="#a0a0a0"/>
<line x1="162" y1="201.1" x2="168" y2="180.1" stroke="#6a6a6a" stroke-width="0.28"/>
<polygon points="162,202.7 168,181.4 168,183.8 162,205.7" fill="#a0a0a0"/>
<line x1="162" y1="204.6" x2="168" y2="182.9" stroke="#6a6a6a" stroke-width="0.28"/>
<polygon points="162,206.2 168,184.2 168,186.6 162,209.2" fill="#a0a0a0"/>
<line x1="162" y1="208.2" x2="168" y2="185.7" stroke="#6a6a6a" stroke-width="0.28"/>
<polygon points="162,209.8 168,187.0 168,189.4 162,212.8" fill="#a0a0a0"/>
<line x1="162" y1="211.7" x2="168" y2="188.6" stroke="#6a6a6a" stroke-width="0.28"/>
<polygon points="162,213.3 168,189.8 168,192.2 162,216.3" fill="#a0a0a0"/>
<line x1="162" y1="215.2" x2="168" y2="191.4" stroke="#6a6a6a" stroke-width="0.28"/>
<line x1="162.0" y1="82.9" x2="162.0" y2="150.8" stroke="#a4a4a4" stroke-width="1.2"/>
<line x1="168.0" y1="85.5" x2="168.0" y2="141.6" stroke="#a4a4a4" stroke-width="1.2"/>
<polygon points="169,86.0 175,88.6 175,130.8 169,140.0" fill="#303030"/>
<polygon points="169,86.0 175,88.6 175,90.8 169,89.0" fill="#a0a0a0"/>
<line x1="169" y1="87.5" x2="175" y2="89.7" stroke="#6a6a6a" stroke-width="0.22"/>
<polygon points="169,88.7 175,90.6 175,92.8 169,91.7" fill="#a0a0a0"/>
<line x1="169" y1="90.2" x2="175" y2="91.7" stroke="#6a6a6a" stroke-width="0.22"/>
<polygon points="169,91.4 175,92.6 175,94.8 169,94.4" fill="#a0a0a0"/>
<line x1="169" y1="92.9" x2="175" y2="93.7" stroke="#6a6a6a" stroke-width="0.22"/>
<polygon points="169,94.1 175,94.6 175,96.8 169,97.1" fill="#a0a0a0"/>
<line x1="169" y1="95.6" x2="175" y2="95.7" stroke="#6a6a6a" stroke-width="0.22"/>
<polygon points="169,96.8 175,96.6 175,98.8 169,99.8" fill="#a0a0a0"/>
<line x1="169" y1="98.3" x2="175" y2="97.7" stroke="#6a6a6a" stroke-width="0.22"/>
<polygon points="169,99.5 175,98.6 175,100.8 169,102.5" fill="#a0a0a0"/>
<line x1="169" y1="101.0" x2="175" y2="99.7" stroke="#6a6a6a" stroke-width="0.22"/>
<polygon points="169,102.2 175,100.6 175,102.8 169,105.2" fill="#a0a0a0"/>
<line x1="169" y1="103.7" x2="175" y2="101.7" stroke="#6a6a6a" stroke-width="0.22"/>
<polygon points="169,104.9 175,102.6 175,104.8 169,107.9" fill="#a0a0a0"/>
<line x1="169" y1="106.4" x2="175" y2="103.7" stroke="#6a6a6a" stroke-width="0.22"/>
<polygon points="169,107.6 175,104.6 175,106.8 169,110.6" fill="#a0a0a0"/>
<line x1="169" y1="109.1" x2="175" y2="105.7" stroke="#6a6a6a" stroke-width="0.22"/>
<polygon points="169,110.3 175,106.6 175,108.8 169,113.3" fill="#a0a0a0"/>
<line x1="169" y1="111.8" x2="175" y2="107.7" stroke="#6a6a6a" stroke-width="0.22"/>
<polygon points="169,113.0 175,108.6 175,110.8 169,116.0" fill="#a0a0a0"/>
<line x1="169" y1="114.5" x2="175" y2="109.6" stroke="#6a6a6a" stroke-width="0.22"/>
<polygon points="169,115.7 175,110.5 175,112.8 169,118.7" fill="#a0a0a0"/>
<line x1="169" y1="117.2" x2="175" y2="111.6" stroke="#6a6a6a" stroke-width="0.22"/>
<polygon points="169,118.4 175,112.5 175,114.8 169,121.4" fill="#a0a0a0"/>
<line x1="169" y1="119.9" x2="175" y2="113.6" stroke="#6a6a6a" stroke-width="0.22"/>
<polygon points="169,121.1 175,114.5 175,116.8 169,124.1" fill="#a0a0a0"/>
<line x1="169" y1="122.6" x2="175" y2="115.6" stroke="#6a6a6a" stroke-width="0.22"/>
<polygon points="169,123.8 175,116.5 175,118.8 169,126.8" fill="#a0a0a0"/>
<line x1="169" y1="125.3" x2="175" y2="117.6" stroke="#6a6a6a" stroke-width="0.22"/>
<polygon points="169,126.5 175,118.5 175,120.8 169,129.5" fill="#a0a0a0"/>
<line x1="169" y1="128.0" x2="175" y2="119.6" stroke="#6a6a6a" stroke-width="0.22"/>
<polygon points="169,129.2 175,120.5 175,122.7 169,132.2" fill="#a0a0a0"/>
<line x1="169" y1="130.7" x2="175" y2="121.6" stroke="#6a6a6a" stroke-width="0.22"/>
<polygon points="169,131.9 175,122.5 175,124.7 169,134.9" fill="#a0a0a0"/>
<line x1="169" y1="133.4" x2="175" y2="123.6" stroke="#6a6a6a" stroke-width="0.22"/>
<polygon points="169,134.6 175,124.5 175,126.7 169,137.6" fill="#a0a0a0"/>
<line x1="169" y1="136.1" x2="175" y2="125.6" stroke="#6a6a6a" stroke-width="0.22"/>
<polygon points="169,137.3 175,126.5 175,128.7 169,140.3" fill="#a0a0a0"/>
<line x1="169" y1="138.8" x2="175" y2="127.6" stroke="#6a6a6a" stroke-width="0.22"/>
<polygon points="169,140.0 175,128.5 175,130.7 169,143.0" fill="#a0a0a0"/>
<line x1="169" y1="141.5" x2="175" y2="129.6" stroke="#6a6a6a" stroke-width="0.22"/>
<polygon points="169,142.7 175,130.5 175,132.7 169,145.7" fill="#a0a0a0"/>
<line x1="169" y1="144.2" x2="175" y2="131.6" stroke="#6a6a6a" stroke-width="0.22"/>
<polygon points="169,145.4 175,132.5 175,134.7 169,148.4" fill="#a0a0a0"/>
<line x1="169" y1="146.9" x2="175" y2="133.6" stroke="#6a6a6a" stroke-width="0.22"/>
<polygon points="169,148.1 175,134.5 175,136.7 169,151.1" fill="#a0a0a0"/>
<line x1="169" y1="149.6" x2="175" y2="135.6" stroke="#6a6a6a" stroke-width="0.22"/>
<polygon points="169,150.8 175,136.5 175,138.7 169,153.8" fill="#a0a0a0"/>
<line x1="169" y1="152.3" x2="175" y2="137.6" stroke="#6a6a6a" stroke-width="0.22"/>
<polygon points="169,153.5 175,138.5 175,140.7 169,156.5" fill="#a0a0a0"/>
<line x1="169" y1="155.0" x2="175" y2="139.6" stroke="#6a6a6a" stroke-width="0.22"/>
<polygon points="169,156.2 175,140.5 175,142.7 169,159.2" fill="#a0a0a0"/>
<line x1="169" y1="157.7" x2="175" y2="141.6" stroke="#6a6a6a" stroke-width="0.22"/>
<polygon points="169,158.9 175,142.5 175,144.7 169,161.9" fill="#a0a0a0"/>
<line x1="169" y1="160.4" x2="175" y2="143.6" stroke="#6a6a6a" stroke-width="0.22"/>
<polygon points="169,161.6 175,144.5 175,146.7 169,164.6" fill="#a0a0a0"/>
<line x1="169" y1="163.1" x2="175" y2="145.6" stroke="#6a6a6a" stroke-width="0.22"/>
<polygon points="169,164.3 175,146.5 175,148.7 169,167.3" fill="#a0a0a0"/>
<line x1="169" y1="165.8" x2="175" y2="147.6" stroke="#6a6a6a" stroke-width="0.22"/>
<polygon points="169,167.0 175,148.5 175,150.7 169,170.0" fill="#a0a0a0"/>
<line x1="169" y1="168.5" x2="175" y2="149.6" stroke="#6a6a6a" stroke-width="0.22"/>
<polygon points="169,169.7 175,150.5 175,152.7 169,172.7" fill="#a0a0a0"/>
<line x1="169" y1="171.2" x2="175" y2="151.6" stroke="#6a6a6a" stroke-width="0.22"/>
<polygon points="169,172.4 175,152.5 175,154.7 169,175.4" fill="#a0a0a0"/>
<line x1="169" y1="173.9" x2="175" y2="153.6" stroke="#6a6a6a" stroke-width="0.22"/>
<polygon points="169,175.1 175,154.5 175,156.7 169,178.1" fill="#a0a0a0"/>
<line x1="169" y1="176.6" x2="175" y2="155.6" stroke="#6a6a6a" stroke-width="0.22"/>
<polygon points="169,177.8 175,156.5 175,158.7 169,180.8" fill="#a0a0a0"/>
<line x1="169" y1="179.3" x2="175" y2="157.6" stroke="#6a6a6a" stroke-width="0.22"/>
<polygon points="169,180.5 175,158.5 175,160.7 169,183.5" fill="#a0a0a0"/>
<line x1="169" y1="182.0" x2="175" y2="159.6" stroke="#6a6a6a" stroke-width="0.22"/>
<polygon points="169,183.2 175,160.5 175,162.7 169,186.2" fill="#a0a0a0"/>
<line x1="169" y1="184.7" x2="175" y2="161.6" stroke="#6a6a6a" stroke-width="0.22"/>
<polygon points="169,185.9 175,162.5 175,164.7 169,188.9" fill="#a0a0a0"/>
<line x1="169" y1="187.4" x2="175" y2="163.6" stroke="#6a6a6a" stroke-width="0.22"/>
<polygon points="169,188.6 175,164.5 175,166.7 169,191.6" fill="#a0a0a0"/>
<line x1="169" y1="190.1" x2="175" y2="165.6" stroke="#6a6a6a" stroke-width="0.22"/>
<polygon points="169,191.3 175,166.5 175,168.7 169,194.3" fill="#a0a0a0"/>
<line x1="169" y1="192.8" x2="175" y2="167.6" stroke="#6a6a6a" stroke-width="0.22"/>
<polygon points="169,194.0 175,168.4 175,170.7 169,197.0" fill="#a0a0a0"/>
<line x1="169" y1="195.5" x2="175" y2="169.5" stroke="#6a6a6a" stroke-width="0.22"/>
<polygon points="169,196.7 175,170.4 175,172.7 169,199.7" fill="#a0a0a0"/>
<line x1="169" y1="198.2" x2="175" y2="171.5" stroke="#6a6a6a" stroke-width="0.22"/>
<polygon points="169,199.4 175,172.4 175,174.7 169,202.4" fill="#a0a0a0"/>
<line x1="169" y1="200.9" x2="175" y2="173.5" stroke="#6a6a6a" stroke-width="0.22"/>
<polygon points="169,202.1 175,174.4 175,176.7 169,205.1" fill="#a0a0a0"/>
<line x1="169" y1="203.6" x2="175" y2="175.5" stroke="#6a6a6a" stroke-width="0.22"/>
<polygon points="169,204.8 175,176.4 175,178.7 169,207.8" fill="#a0a0a0"/>
<line x1="169" y1="206.3" x2="175" y2="177.5" stroke="#6a6a6a" stroke-width="0.22"/>
<polygon points="169,207.5 175,178.4 175,180.7 169,210.5" fill="#a0a0a0"/>
<line x1="169" y1="209.0" x2="175" y2="179.5" stroke="#6a6a6a" stroke-width="0.22"/>
<polygon points="169,210.2 175,180.4 175,182.6 169,213.2" fill="#a0a0a0"/>
<line x1="169" y1="211.7" x2="175" y2="181.5" stroke="#6a6a6a" stroke-width="0.22"/>
<polygon points="169,212.9 175,182.4 175,184.6 169,215.9" fill="#a0a0a0"/>
<line x1="169" y1="214.4" x2="175" y2="183.5" stroke="#6a6a6a" stroke-width="0.22"/>
<line x1="169.0" y1="86.0" x2="169.0" y2="140.0" stroke="#a4a4a4" stroke-width="1.2"/>
<line x1="175.0" y1="88.6" x2="175.0" y2="130.8" stroke="#a4a4a4" stroke-width="1.2"/>
<polygon points="175,80 181,88 181,120 175,128" fill="#333"/>
<polygon points="206,74 296,0 296,197 212,197 206,120" fill="#1c1c1c"/>
<polygon points="206,80 212,76 212,197 206,120" fill="#333"/>
<polygon points="213,56.8 222,40.0 222,200 213,200.0" fill="#262626"/>
<polygon points="213,56.8 222,40.0 222,43.0 213,58.9" fill="#8c8c8c"/>
<line x1="213" y1="60.6" x2="222" y2="45.5" stroke="#4a4a4a" stroke-width="1"/>
<polygon points="213,63.8 222,50.0 222,53.0 213,65.9" fill="#8c8c8c"/>
<line x1="213" y1="67.7" x2="222" y2="55.5" stroke="#4a4a4a" stroke-width="1"/>
<polygon points="213,70.8 222,60.0 222,63.0 213,72.9" fill="#8c8c8c"/>
<line x1="213" y1="74.7" x2="222" y2="65.5" stroke="#4a4a4a" stroke-width="1"/>
<polygon points="213,77.8 222,70.0 222,73.0 213,79.9" fill="#8c8c8c"/>
<line x1="213" y1="81.7" x2="222" y2="75.5" stroke="#4a4a4a" stroke-width="1"/>
<polygon points="213,84.8 222,80.0 222,83.0 213,86.9" fill="#8c8c8c"/>
<line x1="213" y1="88.7" x2="222" y2="85.5" stroke="#4a4a4a" stroke-width="1"/>
<polygon points="213,91.8 222,90.0 222,93.0 213,93.9" fill="#8c8c8c"/>
<line x1="213" y1="95.7" x2="222" y2="95.5" stroke="#4a4a4a" stroke-width="1"/>
<polygon points="213,98.8 222,100.0 222,103.0 213,100.9" fill="#8c8c8c"/>
<line x1="213" y1="102.7" x2="222" y2="105.5" stroke="#4a4a4a" stroke-width="1"/>
<polygon points="213,105.8 222,110.0 222,113.0 213,107.9" fill="#8c8c8c"/>
<line x1="213" y1="109.7" x2="222" y2="115.5" stroke="#4a4a4a" stroke-width="1"/>
<polygon points="213,112.8 222,120.0 222,123.0 213,114.9" fill="#8c8c8c"/>
<line x1="213" y1="116.7" x2="222" y2="125.5" stroke="#4a4a4a" stroke-width="1"/>
<polygon points="213,119.8 222,130.0 222,133.0 213,121.9" fill="#8c8c8c"/>
<line x1="213" y1="123.7" x2="222" y2="135.5" stroke="#4a4a4a" stroke-width="1"/>
<polygon points="213,126.8 222,140.0 222,143.0 213,128.9" fill="#8c8c8c"/>
<line x1="213" y1="130.7" x2="222" y2="145.5" stroke="#4a4a4a" stroke-width="1"/>
<polygon points="213,133.8 222,150.0 222,153.0 213,135.9" fill="#8c8c8c"/>
<line x1="213" y1="137.7" x2="222" y2="155.5" stroke="#4a4a4a" stroke-width="1"/>
<polygon points="213,140.8 222,160.0 222,163.0 213,142.9" fill="#8c8c8c"/>
<line x1="213" y1="144.7" x2="222" y2="165.5" stroke="#4a4a4a" stroke-width="1"/>
<polygon points="213,147.8 222,170.0 222,173.0 213,149.9" fill="#8c8c8c"/>
<line x1="213" y1="151.7" x2="222" y2="175.5" stroke="#4a4a4a" stroke-width="1"/>
<polygon points="213,154.8 222,180.0 222,183.0 213,156.9" fill="#8c8c8c"/>
<line x1="213" y1="158.7" x2="222" y2="185.5" stroke="#4a4a4a" stroke-width="1"/>
<polygon points="213,161.8 222,190.0 222,193.0 213,163.9" fill="#8c8c8c"/>
<line x1="213" y1="165.7" x2="222" y2="195.5" stroke="#4a4a4a" stroke-width="1"/>
<polygon points="213,168.8 222,200.0 222,203.0 213,170.9" fill="#8c8c8c"/>
<line x1="213" y1="172.7" x2="222" y2="205.5" stroke="#4a4a4a" stroke-width="1"/>
<polygon points="213,175.8 222,210.0 222,213.0 213,177.9" fill="#8c8c8c"/>
<line x1="213" y1="179.7" x2="222" y2="215.5" stroke="#4a4a4a" stroke-width="1"/>
<line x1="213.0" y1="56.8" x2="213.0" y2="200" stroke="#9a9a9a" stroke-width="1.2"/>
<line x1="222.0" y1="40.0" x2="222.0" y2="200" stroke="#9a9a9a" stroke-width="1.2"/>
<rect x="222" y="0.0" width="4" height="200.0" fill="#202020"/>
<rect x="226" y="0.0" width="10" height="200.0" fill="#161616"/>
<rect x="232.7" y="0.0" width="2.8" height="200.0" fill="#a8a8a8"/>
<polygon points="236,52.0 258,30.0 258,200 236,200.0" fill="#262626"/>
<polygon points="236,52.0 258,30.0 258,33.0 236,54.0" fill="#8c8c8c"/>
<line x1="236" y1="57.7" x2="258" y2="38.5" stroke="#4a4a4a" stroke-width="1"/>
<polygon points="236,62.3 258,45.5 258,48.5 236,64.3" fill="#8c8c8c"/>
<line x1="236" y1="68.0" x2="258" y2="54.0" stroke="#4a4a4a" stroke-width="1"/>
<polygon points="236,72.7 258,61.0 258,64.0 236,74.7" fill="#8c8c8c"/>
<line x1="236" y1="78.4" x2="258" y2="69.5" stroke="#4a4a4a" stroke-width="1"/>
<polygon points="236,83.0 258,76.5 258,79.5 236,85.0" fill="#8c8c8c"/>
<line x1="236" y1="88.7" x2="258" y2="85.0" stroke="#4a4a4a" stroke-width="1"/>
<polygon points="236,93.3 258,92.0 258,95.0 236,95.3" fill="#8c8c8c"/>
<line x1="236" y1="99.0" x2="258" y2="100.5" stroke="#4a4a4a" stroke-width="1"/>
<polygon points="236,103.7 258,107.5 258,110.5 236,105.7" fill="#8c8c8c"/>
<line x1="236" y1="109.4" x2="258" y2="116.0" stroke="#4a4a4a" stroke-width="1"/>
<polygon points="236,114.0 258,123.0 258,126.0 236,116.0" fill="#8c8c8c"/>
<line x1="236" y1="119.7" x2="258" y2="131.5" stroke="#4a4a4a" stroke-width="1"/>
<polygon points="236,124.3 258,138.5 258,141.5 236,126.3" fill="#8c8c8c"/>
<line x1="236" y1="130.0" x2="258" y2="147.0" stroke="#4a4a4a" stroke-width="1"/>
<polygon points="236,134.7 258,154.0 258,157.0 236,136.7" fill="#8c8c8c"/>
<line x1="236" y1="140.4" x2="258" y2="162.5" stroke="#4a4a4a" stroke-width="1"/>
<polygon points="236,145.0 258,169.5 258,172.5 236,147.0" fill="#8c8c8c"/>
<line x1="236" y1="150.7" x2="258" y2="178.0" stroke="#4a4a4a" stroke-width="1"/>
<polygon points="236,155.3 258,185.0 258,188.0 236,157.3" fill="#8c8c8c"/>
<line x1="236" y1="161.0" x2="258" y2="193.5" stroke="#4a4a4a" stroke-width="1"/>
<polygon points="236,165.7 258,200.5 258,203.5 236,167.7" fill="#8c8c8c"/>
<line x1="236" y1="171.4" x2="258" y2="209.0" stroke="#4a4a4a" stroke-width="1"/>
<line x1="236.0" y1="52.0" x2="236.0" y2="200" stroke="#9a9a9a" stroke-width="1.2"/>
<line x1="247.0" y1="41.0" x2="247.0" y2="200" stroke="#9a9a9a" stroke-width="1.2"/>
<line x1="258.0" y1="30.0" x2="258.0" y2="200" stroke="#9a9a9a" stroke-width="1.2"/>
<polygon points="224,12 232,8 233,30 224,36" fill="#5a98c0"/>
<polygon points="214,38 222,34 222,44 214,48" fill="#c04048"/>
<polygon points="132,197 212,197 206,120 182,120" fill="url(#flr)"/>
<line x1="181.1" y1="121.4" x2="206.1" y2="121.4" stroke="#9a9a9a" stroke-width="0.62"/>
<line x1="179.2" y1="124.4" x2="206.3" y2="124.4" stroke="#9a9a9a" stroke-width="0.67"/>
<line x1="176.6" y1="128.4" x2="206.7" y2="128.4" stroke="#9a9a9a" stroke-width="0.73"/>
<line x1="173.4" y1="133.3" x2="207.0" y2="133.3" stroke="#9a9a9a" stroke-width="0.81"/>
<line x1="169.7" y1="139.0" x2="207.5" y2="139.0" stroke="#9a9a9a" stroke-width="0.90"/>
<line x1="165.5" y1="145.4" x2="208.0" y2="145.4" stroke="#9a9a9a" stroke-width="1.00"/>
<line x1="160.9" y1="152.5" x2="208.5" y2="152.5" stroke="#9a9a9a" stroke-width="1.11"/>
<line x1="155.9" y1="160.2" x2="209.1" y2="160.2" stroke="#9a9a9a" stroke-width="1.23"/>
<line x1="150.4" y1="168.6" x2="209.8" y2="168.6" stroke="#9a9a9a" stroke-width="1.36"/>
<line x1="144.7" y1="177.5" x2="210.5" y2="177.5" stroke="#9a9a9a" stroke-width="1.50"/>
<line x1="138.5" y1="187.0" x2="211.2" y2="187.0" stroke="#9a9a9a" stroke-width="1.64"/>
<line x1="132.0" y1="197" x2="182.0" y2="120" stroke="#a0a0a0" stroke-width="0.8"/>
<line x1="152.0" y1="197" x2="188.0" y2="120" stroke="#a0a0a0" stroke-width="0.8"/>
<line x1="172.0" y1="197" x2="194.0" y2="120" stroke="#a0a0a0" stroke-width="0.8"/>
<line x1="192.0" y1="197" x2="200.0" y2="120" stroke="#a0a0a0" stroke-width="0.8"/>
<line x1="212.0" y1="197" x2="206.0" y2="120" stroke="#a0a0a0" stroke-width="0.8"/>
<polygon points="134,197 211,197 207,160 157,160" fill="url(#perf)" opacity="0.7"/>
<rect x="258" y="0" width="21" height="197" fill="url(#lcol)"/>
<rect x="279" y="0" width="17" height="197" fill="#181818"/>
</g>
</g>
<g>
<defs>
<linearGradient id="scr" x1="0" y1="0" x2="1" y2="1"><stop offset="0" stop-color="#262626"/><stop offset="0.45" stop-color="#121212"/><stop offset="1" stop-color="#0c0c0c"/></linearGradient>
<linearGradient id="neck" x1="0" y1="0" x2="1" y2="0"><stop offset="0" stop-color="#6a6a6a"/><stop offset="0.5" stop-color="#b8b8b8"/><stop offset="1" stop-color="#7a7a7a"/></linearGradient>
<linearGradient id="twr" x1="0" y1="0" x2="1" y2="0"><stop offset="0" stop-color="#101010"/><stop offset="0.6" stop-color="#1c1c1c"/><stop offset="1" stop-color="#0c0c0c"/></linearGradient>
</defs>
<!-- stand -->
<polygon points="916,479.8 936.3,475.6 984,482.2 982.8,485.8 917,481.6" fill="#8a8a8a"/>
<path d="M942,461 L974.5,463 C973,470 972,476 972,479 L943.5,477 C944,472 943,466 942,461 Z" fill="url(#neck)"/>
<!-- monitor -->
<path d="M905,391 L955.6,380.8 L958.5,379 L1010,368.6 Q1013,368.5 1012.8,371 L1009.3,464 L898,457.7 Z" fill="#101010"/>
<polygon points="906,391.5 955.6,381.5 955.6,383.5 906,393.5" fill="#4a4a4a"/>
<polygon points="958.5,380 1010,369.6 1010,371 958.5,381.5" fill="#333"/>
<polygon points="908,396 1004,376 1003,454 902,452" fill="url(#scr)"/>
<polygon points="898,457.7 1009.3,464 1009.3,462.5 898.3,456.5" fill="#3a3a3a"/>
<rect x="940" y="456.5" width="4" height="3" fill="#777"/>
<!-- tower -->
<polygon points="1016,383 1023,379 1023,492 1007,486" fill="#2a2a2a"/>
<polygon points="1023,379 1067,382 1071,488 1023,491" fill="url(#twr)"/>
<polygon points="1023,379 1067,382 1068,385 1023,382" fill="#555"/>
<polygon points="1027,387 1066,389 1067,440 1027,441" fill="#262626"/>
<line x1="1027" y1="398" x2="1066" y2="399" stroke="#444" stroke-width="1"/>
<line x1="1027" y1="413" x2="1066" y2="414" stroke="#3a3a3a" stroke-width="1"/>
<line x1="1027" y1="423" x2="1066" y2="424" stroke="#3a3a3a" stroke-width="1"/>
<line x1="1027" y1="433" x2="1066" y2="434" stroke="#444" stroke-width="1"/>
<rect x="1044" y="449" width="6" height="5" fill="#d0d0d0"/>
<polygon points="1023,490 1071,487 1073,496 1023,498" fill="#bdbdbd"/>
<!-- keyboard -->
<polygon points="867,489 892,479 1000,490.5 1000,499 967,512 867,492.5" fill="#161616"/>
<polygon points="870,488.5 893,480.5 998,491 968,503.5" fill="#242424"/>
<line x1="892.2" y1="481.6" x2="994.7" y2="492.5" stroke="#4a4a4a" stroke-width="1.3" stroke-dasharray="2.2,1.3"/>
<line x1="888.5" y1="482.9" x2="990.0" y2="494.5" stroke="#4a4a4a" stroke-width="1.3" stroke-dasharray="2.2,1.3"/>
<line x1="884.8" y1="484.1" x2="985.3" y2="496.5" stroke="#4a4a4a" stroke-width="1.3" stroke-dasharray="2.2,1.3"/>
<line x1="881.2" y1="485.4" x2="980.7" y2="498.5" stroke="#4a4a4a" stroke-width="1.3" stroke-dasharray="2.2,1.3"/>
<line x1="877.5" y1="486.6" x2="976.0" y2="500.5" stroke="#4a4a4a" stroke-width="1.3" stroke-dasharray="2.2,1.3"/>
<line x1="873.8" y1="487.9" x2="971.3" y2="502.5" stroke="#4a4a4a" stroke-width="1.3" stroke-dasharray="2.2,1.3"/>
<polygon points="867,489.5 968,504 998,491.5 999,494 967,507 867,492" fill="#3a3a3a"/>
<rect x="940" y="497" width="12" height="2" fill="#aaa" transform="rotate(8 940 497)"/>
<!-- mouse -->
<ellipse cx="1012" cy="504" rx="17" ry="8" fill="#1a1a1a"/>
<ellipse cx="1008" cy="501" rx="9" ry="3" fill="#3a3a3a"/>
</g>

<g>
<defs><radialGradient id="ant" cx="40%" cy="40%" r="60%"><stop offset="0" stop-color="#d8d8cc"/><stop offset="0.6" stop-color="#8a8a80"/><stop offset="1" stop-color="#4a4a44"/></radialGradient></defs>
<polygon points="314.8,108 350.6,73.9 351,121.5 314.8,159" fill="#2e2e2e"/>
<line x1="316" y1="114.0" x2="350" y2="81.5" stroke="#1a1a1a" stroke-width="1.8"/>
<line x1="316" y1="120.3" x2="350" y2="87.8" stroke="#1a1a1a" stroke-width="1.8"/>
<line x1="316" y1="126.6" x2="350" y2="94.1" stroke="#1a1a1a" stroke-width="1.8"/>
<line x1="316" y1="132.9" x2="350" y2="100.4" stroke="#1a1a1a" stroke-width="1.8"/>
<line x1="316" y1="139.2" x2="350" y2="106.7" stroke="#1a1a1a" stroke-width="1.8"/>
<line x1="316" y1="145.5" x2="350" y2="113.0" stroke="#1a1a1a" stroke-width="1.8"/>
<line x1="316" y1="151.8" x2="350" y2="119.3" stroke="#1a1a1a" stroke-width="1.8"/>
<polygon points="231.3,56.8 350.6,73.9 314.8,108 178.5,89.2" fill="#464646"/>
<line x1="196.6" y1="81.0" x2="258.6" y2="89.7" stroke="#2a2a2a" stroke-width="2"/>
<line x1="282.3" y1="93.0" x2="323.1" y2="98.7" stroke="#2a2a2a" stroke-width="2"/>
<line x1="201.7" y1="77.9" x2="262.9" y2="86.4" stroke="#2a2a2a" stroke-width="2"/>
<line x1="286.3" y1="89.7" x2="326.6" y2="95.3" stroke="#2a2a2a" stroke-width="2"/>
<line x1="206.8" y1="74.7" x2="267.2" y2="83.2" stroke="#2a2a2a" stroke-width="2"/>
<line x1="290.3" y1="86.4" x2="330.1" y2="92.0" stroke="#2a2a2a" stroke-width="2"/>
<line x1="211.9" y1="71.6" x2="271.5" y2="79.9" stroke="#2a2a2a" stroke-width="2"/>
<line x1="294.3" y1="83.2" x2="333.6" y2="88.7" stroke="#2a2a2a" stroke-width="2"/>
<line x1="217.0" y1="68.4" x2="275.8" y2="76.7" stroke="#2a2a2a" stroke-width="2"/>
<line x1="298.4" y1="79.9" x2="337.1" y2="85.4" stroke="#2a2a2a" stroke-width="2"/>
<line x1="222.1" y1="65.2" x2="280.2" y2="73.5" stroke="#2a2a2a" stroke-width="2"/>
<line x1="302.4" y1="76.6" x2="340.6" y2="82.0" stroke="#2a2a2a" stroke-width="2"/>
<line x1="227.2" y1="62.1" x2="284.5" y2="70.2" stroke="#2a2a2a" stroke-width="2"/>
<line x1="306.4" y1="73.3" x2="344.1" y2="78.7" stroke="#2a2a2a" stroke-width="2"/>
<line x1="232.3" y1="58.9" x2="288.8" y2="67.0" stroke="#2a2a2a" stroke-width="2"/>
<line x1="310.4" y1="70.1" x2="347.7" y2="75.4" stroke="#2a2a2a" stroke-width="2"/>
<polygon points="254,66.5 303,72.5 298.5,83.5 251,78" fill="#333" stroke="#555" stroke-width="0.8"/>
<line x1="244" y1="90.5" x2="266" y2="93.5" stroke="#b8b8b8" stroke-width="1.1"/>
<line x1="314.8" y1="108" x2="350.6" y2="73.9" stroke="#333" stroke-width="1.2"/>
<polygon points="178.5,89.2 314.8,108.8 314.8,159 181,131.8" fill="#3a3a3a"/>
<polyline points="182,87.5 314.8,107.5 315.7,156" fill="none" stroke="#d0842a" stroke-width="1.5"/>
<polygon points="181,131.8 314.8,159 314.8,161 181,134" fill="#1e1e1e"/>
<polygon points="187,97.7 221,101.5 221,137.5 187,133.5" fill="#363636" stroke="#2a2a2a" stroke-width="0.8"/>
<polygon points="189,100 219,103.5 219,112 189,108.5" fill="#2c2c2c"/>
<polygon points="185.3,115.6 216,119 216,123 185.3,121.6" fill="none" stroke="#777" stroke-width="0.7"/>
<polygon points="187,123.5 216,126.5 216,133 187,130" fill="#181818"/>
<rect x="188.1" y="124.9" width="3" height="3.6" fill="#e03a30"/>
<rect x="192.3" y="125.3" width="3" height="3.6" fill="#7ad040"/>
<rect x="196.6" y="125.7" width="3" height="3.6" fill="#8ad840"/>
<rect x="200.9" y="126.1" width="3" height="3.6" fill="#e8e040"/>
<rect x="205.7" y="126.6" width="3" height="3.6" fill="#f0e850"/>
<rect x="210.2" y="127.1" width="3" height="3.6" fill="#f0e860"/>
<circle cx="239" cy="118.1" r="8.3" fill="url(#ant)" stroke="#2a2a2a" stroke-width="0.6"/>
<circle cx="239.8" cy="133.5" r="8.3" fill="url(#ant)" stroke="#2a2a2a" stroke-width="0.6"/>
<circle cx="239" cy="118.1" r="3.2" fill="#6a6a60"/><circle cx="239.8" cy="133.5" r="3.2" fill="#6a6a60"/>
<polyline points="251,119 251,117.3 304.6,125.8 304.6,128" fill="none" stroke="#8a8a8a" stroke-width="0.7"/>
<polygon points="253.5,120.7 275.6,122.02600000000001 275.6,140.3 253.5,140.03480000000002" fill="#1c1c1c" stroke="#a0a0a0" stroke-width="1"/>
<polygon points="255.5,123.7 273.6,125.02600000000001 273.6,135.3 255.5,134.3" fill="#262628"/>
<rect x="255.0" y="135.3" width="5" height="3" fill="#60c040"/>
<rect x="268.6" y="136.3" width="5.5" height="3" fill="#e8e040"/>
<polygon points="278,123.3 301,124.67999999999999 301,145.4 278,145.124" fill="#1c1c1c" stroke="#a0a0a0" stroke-width="1"/>
<polygon points="280,126.3 299,127.67999999999999 299,140.4 280,139.4" fill="#262628"/>
<rect x="279.5" y="140.4" width="5" height="3" fill="#60c040"/>
<rect x="294" y="141.4" width="5.5" height="3" fill="#e8e040"/>
<rect x="351.4" y="88.3" width="5.5" height="16" fill="#d8901a"/><rect x="352.8" y="91" width="2.6" height="10" fill="#f4d070"/>
</g>
<g>
<defs><radialGradient id="ant2" cx="40%" cy="35%" r="65%"><stop offset="0" stop-color="#c8c8c4"/><stop offset="0.7" stop-color="#8a8a86"/><stop offset="1" stop-color="#505050"/></radialGradient></defs>
<polygon points="366.2,207.1 544.3,207.5 548,212.2 546.1,285.3 510.5,313.4 345.6,307.8 351.2,224.4" fill="none" stroke="#3a8cc8" stroke-width="1.6"/>
<polygon points="368.5,210.5 542.5,211 544.5,213.8 542.8,283.6 508.6,310 349.2,305.5 354.5,226.5" fill="none" stroke="#5aa4d8" stroke-width="1.3"/>
<polygon points="518,250.6 543.3,211 543.3,282.5 514.3,307" fill="#2c2c2c"/>
<polygon points="368,211.2 543.3,210.5 518,250.6 351.2,226.2" fill="#323232"/>
<line x1="524" y1="240" x2="522.5" y2="300" stroke="#1c1c1c" stroke-width="2.2"/>
<line x1="530.5" y1="231" x2="529.0" y2="294" stroke="#1c1c1c" stroke-width="2.2"/>
<line x1="537" y1="222" x2="535.5" y2="288" stroke="#1c1c1c" stroke-width="2.2"/>
<line x1="487" y1="214" x2="543" y2="218" stroke="#1a1a1a" stroke-width="2.2"/>
<line x1="484" y1="221" x2="543" y2="225" stroke="#1a1a1a" stroke-width="2.2"/>
<line x1="481" y1="228" x2="543" y2="232" stroke="#1a1a1a" stroke-width="2.2"/>
<line x1="478" y1="235" x2="543" y2="239" stroke="#1a1a1a" stroke-width="2.2"/>
<line x1="475" y1="242" x2="543" y2="246" stroke="#1a1a1a" stroke-width="2.2"/>
<polygon points="409,213 442,217 441.5,218.5 408.5,214.5" fill="#cfcfcf" opacity="0.75"/>
<line x1="518" y1="250.6" x2="543.3" y2="211" stroke="#2c2c2c" stroke-width="1.2"/>
<path d="M440,213 Q446,213 448,218 M444,219 L450,221" fill="none" stroke="#ddd" stroke-width="0.9"/>
<polygon points="351.2,226.2 518,250.6 514.3,310 470,310 351.2,286" fill="#3a3a3a"/>
<line x1="351.2" y1="227" x2="518" y2="251.4" stroke="#555" stroke-width="1"/>
<polyline points="368.1,213.1 519.9,247.8 516.2,299.3" fill="none" stroke="#d4842c" stroke-width="1.5"/>
<polygon points="351.2,281 440,300 514.3,306 514.3,310 470,310.5 351.2,286" fill="#262626"/>
<polygon points="351.2,228 371.9,231 371.9,250.6 351.2,247.5" fill="#303030" stroke="#262626" stroke-width="0.8"/>
<rect x="351.5" y="257" width="9" height="9" fill="#2a2a2a" stroke="#555" stroke-width="0.6"/>
<polygon points="351.2,267 362,268.5 362,284 351.2,282.5" fill="#1c1c24"/>
<rect x="352.7" y="270" width="4.6" height="7" fill="#e8e040"/>
<circle cx="400.5" cy="256.2" r="10.5" fill="url(#ant2)" stroke="#222" stroke-width="0.8"/><circle cx="400.5" cy="256.2" r="5" fill="#5a5a58"/><circle cx="399" cy="254.5" r="2" fill="#9a9a98"/>
<circle cx="400.1" cy="280.6" r="10.5" fill="url(#ant2)" stroke="#222" stroke-width="0.8"/><circle cx="400.1" cy="280.6" r="5" fill="#5a5a58"/><circle cx="398.6" cy="279" r="2" fill="#9a9a98"/>
<polyline points="388,252 385,252 385,258 389,258" fill="none" stroke="#999" stroke-width="0.6"/>
<polyline points="388,275 385,275 385,281 389,281" fill="none" stroke="#999" stroke-width="0.6"/>
<polyline points="413,258 413,256.2 501.2,275 501.2,282.5" fill="none" stroke="#a0a0a0" stroke-width="0.9"/>
<text x="430" y="261" font-size="4.5" fill="#ccc" font-family="Liberation Sans" transform="rotate(9 430 261)">WLAN</text>
<text x="471" y="268" font-size="4.5" fill="#ccc" font-family="Liberation Sans" transform="rotate(9 471 268)">LAN</text>
<polygon points="418.7,261.8 457.1,269.3 456.2,295.6 418.7,288.1" fill="#1e1e1e" stroke="#b4b4b4" stroke-width="1.6"/>
<rect x="421" y="284" width="7" height="3" fill="#6ac840"/>
<rect x="444" y="289" width="8" height="3.5" fill="#e8e040"/>
<polygon points="458,271.2 492.7,278.7 491.8,305.9 458,299.3" fill="#1e1e1e" stroke="#b4b4b4" stroke-width="1.6"/>
<rect x="460" y="295" width="7" height="3" fill="#6ac840"/>
<rect x="480" y="300" width="8" height="3.5" fill="#e8e040"/>
<polyline points="498,299 501,300 501,308" fill="none" stroke="#aaa" stroke-width="0.8"/>
</g>
<g>
<defs><linearGradient id="swt" x1="0" y1="0" x2="0" y2="1"><stop offset="0" stop-color="#5a8880"/><stop offset="1" stop-color="#4a7a72"/></linearGradient></defs>
<polygon points="689,140 834,140 857,163 662,163" fill="url(#swt)"/>
<polygon points="662,163 857,163 857,181 662,181" fill="#2c5854"/>
<line x1="662" y1="163.5" x2="857" y2="163.5" stroke="#4a7a74" stroke-width="1"/>
<rect x="705.0" y="167" width="6.2" height="5" fill="#e8eeee"/>
<rect x="706.5" y="168.2" width="3.2" height="2.6" fill="#3a4a48"/>
<rect x="712.6" y="167" width="6.2" height="5" fill="#e8eeee"/>
<rect x="714.1" y="168.2" width="3.2" height="2.6" fill="#3a4a48"/>
<rect x="720.2" y="167" width="6.2" height="5" fill="#e8eeee"/>
<rect x="721.7" y="168.2" width="3.2" height="2.6" fill="#3a4a48"/>
<rect x="727.8" y="167" width="6.2" height="5" fill="#e8eeee"/>
<rect x="729.3" y="168.2" width="3.2" height="2.6" fill="#3a4a48"/>
<rect x="735.4" y="167" width="6.2" height="5" fill="#e8eeee"/>
<rect x="736.9" y="168.2" width="3.2" height="2.6" fill="#3a4a48"/>
<rect x="743.0" y="167" width="6.2" height="5" fill="#e8eeee"/>
<rect x="744.5" y="168.2" width="3.2" height="2.6" fill="#3a4a48"/>
<rect x="750.6" y="167" width="6.2" height="5" fill="#e8eeee"/>
<rect x="752.1" y="168.2" width="3.2" height="2.6" fill="#3a4a48"/>
<rect x="758.2" y="167" width="6.2" height="5" fill="#e8eeee"/>
<rect x="759.7" y="168.2" width="3.2" height="2.6" fill="#3a4a48"/>
<rect x="705.0" y="173" width="6.2" height="5" fill="#e8eeee"/>
<rect x="706.5" y="174.2" width="3.2" height="2.6" fill="#3a4a48"/>
<rect x="712.6" y="173" width="6.2" height="5" fill="#e8eeee"/>
<rect x="714.1" y="174.2" width="3.2" height="2.6" fill="#3a4a48"/>
<rect x="720.2" y="173" width="6.2" height="5" fill="#e8eeee"/>
<rect x="721.7" y="174.2" width="3.2" height="2.6" fill="#3a4a48"/>
<rect x="727.8" y="173" width="6.2" height="5" fill="#e8eeee"/>
<rect x="729.3" y="174.2" width="3.2" height="2.6" fill="#3a4a48"/>
<rect x="735.4" y="173" width="6.2" height="5" fill="#e8eeee"/>
<rect x="736.9" y="174.2" width="3.2" height="2.6" fill="#3a4a48"/>
<rect x="743.0" y="173" width="6.2" height="5" fill="#e8eeee"/>
<rect x="744.5" y="174.2" width="3.2" height="2.6" fill="#3a4a48"/>
<rect x="750.6" y="173" width="6.2" height="5" fill="#e8eeee"/>
<rect x="752.1" y="174.2" width="3.2" height="2.6" fill="#3a4a48"/>
<rect x="758.2" y="173" width="6.2" height="5" fill="#e8eeee"/>
<rect x="759.7" y="174.2" width="3.2" height="2.6" fill="#3a4a48"/>
<rect x="769" y="173" width="6" height="5" fill="#e8eeee"/>
<rect x="770.4" y="174.2" width="3" height="2.6" fill="#3a4a48"/>
<rect x="776" y="173" width="6" height="5" fill="#e8eeee"/>
<rect x="777.4" y="174.2" width="3" height="2.6" fill="#3a4a48"/>
<rect x="783" y="173" width="6" height="5" fill="#e8eeee"/>
<rect x="784.4" y="174.2" width="3" height="2.6" fill="#3a4a48"/>
<rect x="790" y="173" width="6" height="5" fill="#e8eeee"/>
<rect x="791.4" y="174.2" width="3" height="2.6" fill="#3a4a48"/>
<rect x="768" y="172" width="29" height="7" fill="none" stroke="#cfd8d8" stroke-width="0.8"/>
<rect x="802" y="169" width="50" height="9" fill="none" stroke="#3f6e6a" stroke-width="0.8"/>
<circle cx="790" cy="167" r="1" fill="#8ab"/>
<line x1="665" y1="168" x2="690" y2="168" stroke="#6a9a94" stroke-width="1"/>
</g>


<g>
<defs><linearGradient id="rail" x1="0" y1="0" x2="0" y2="1"><stop offset="0" stop-color="#5e5e4c"/><stop offset="0.15" stop-color="#727260"/><stop offset="0.4" stop-color="#8e8c7c"/><stop offset="0.55" stop-color="#b0b88c"/><stop offset="0.8" stop-color="#bcc496"/><stop offset="0.84" stop-color="#505a3c"/><stop offset="0.9" stop-color="#e0e4d0"/><stop offset="1" stop-color="#9a9a88"/></linearGradient><linearGradient id="dside" x1="0" y1="0" x2="1" y2="0"><stop offset="0" stop-color="#9a9aa2"/><stop offset="1" stop-color="#5a5a62"/></linearGradient></defs>
<rect x="155.5" y="392" width="111" height="33" fill="url(#rail)"/>
<rect x="158.4" y="405.7" width="7.4" height="4.6" rx="2" fill="#f4f4f0"/>
<rect x="249" y="406.8" width="7.6" height="4.6" rx="2" fill="#f4f4f0"/>
<polygon points="170,361 177.4,357 177.4,466 170,463" fill="url(#dside)"/>
<rect x="182.7" y="467" width="17" height="8.4" fill="#3a7a40"/>
<path d="M177.4,470 L177.4,358 Q177.4,355 180.4,355 L209.3,355 Q212.3,355 212.3,358 L212.3,470 Z" fill="#181818"/>
<circle cx="193.3" cy="363.5" r="1.6" fill="#8a8a8a"/>
<circle cx="198.5" cy="363.5" r="1.6" fill="#8a8a8a"/>
<circle cx="203.8" cy="363.5" r="1.6" fill="#8a8a8a"/>
<rect x="181.7" y="368.8" width="25.3" height="99.2" fill="#5462b4"/>
<rect x="189" y="372" width="14.8" height="16.8" fill="#7a7a7a"/>
<rect x="190.5" y="373.8" width="11.8" height="13.2" fill="#1a1a1a"/>
<rect x="193" y="383" width="6.8" height="3" fill="#3a3a3a"/>
<rect x="184" y="379" width="1.5" height="3" fill="#c8d0f0"/>
<rect x="189" y="391" width="14.8" height="16.8" fill="#7a7a7a"/>
<rect x="190.5" y="392.8" width="11.8" height="13.2" fill="#1a1a1a"/>
<rect x="193" y="402" width="6.8" height="3" fill="#3a3a3a"/>
<rect x="184" y="398" width="1.5" height="3" fill="#c8d0f0"/>
<rect x="189" y="410" width="14.8" height="16.8" fill="#7a7a7a"/>
<rect x="190.5" y="411.8" width="11.8" height="13.2" fill="#1a1a1a"/>
<rect x="193" y="421" width="6.8" height="3" fill="#3a3a3a"/>
<rect x="184" y="417" width="1.5" height="3" fill="#c8d0f0"/>
<rect x="189" y="429" width="14.8" height="16.8" fill="#7a7a7a"/>
<rect x="190.5" y="430.8" width="11.8" height="13.2" fill="#1a1a1a"/>
<rect x="193" y="440" width="6.8" height="3" fill="#3a3a3a"/>
<rect x="184" y="436" width="1.5" height="3" fill="#c8d0f0"/>
<rect x="189" y="448" width="14.8" height="16.8" fill="#7a7a7a"/>
<rect x="190.5" y="449.8" width="11.8" height="13.2" fill="#1a1a1a"/>
<rect x="193" y="459" width="6.8" height="3" fill="#3a3a3a"/>
<rect x="184" y="455" width="1.5" height="3" fill="#c8d0f0"/>
<path d="M219.6,357 L219.6,348 Q219.6,342.4 225.4,342.4 Q231.3,342.4 231.3,348 L231.3,357 Z" fill="#c82838"/>
<rect x="223" y="344.5" width="3" height="8" fill="#f07080" opacity="0.6"/>
<rect x="217.5" y="467" width="17" height="8.4" fill="#3a7a40"/>
<path d="M213.3,470 L213.3,358 Q213.3,355 216.3,355 L244,355 Q247,355 247,358 L247,470 Z" fill="#161616"/>
<rect x="244.5" y="357" width="2.5" height="112" fill="#3a3a3a"/>
<circle cx="230.2" cy="363.5" r="1.6" fill="#8a8a8a"/>
<circle cx="235.5" cy="363.5" r="1.6" fill="#8a8a8a"/>
<polygon points="232.3,369.8 238.6,380.4 226,380.4" fill="#e8b820"/>
<polygon points="232.3,374 235,378.6 229.6,378.6" fill="#3a4a7a"/>
<rect x="219.6" y="384.6" width="24.4" height="83.4" fill="#5462b4"/>
<rect x="227" y="391" width="13.8" height="17" fill="#7a7a7a"/>
<rect x="228.4" y="392.8" width="11" height="13.4" fill="#1a1a1a"/>
<rect x="230.5" y="402" width="6.8" height="3" fill="#3a3a3a"/>
<rect x="222" y="398" width="1.5" height="3" fill="#c8d0f0"/>
<rect x="227" y="410" width="13.8" height="17" fill="#7a7a7a"/>
<rect x="228.4" y="411.8" width="11" height="13.4" fill="#1a1a1a"/>
<rect x="230.5" y="421" width="6.8" height="3" fill="#3a3a3a"/>
<rect x="222" y="417" width="1.5" height="3" fill="#c8d0f0"/>
<rect x="227" y="429" width="13.8" height="17" fill="#7a7a7a"/>
<rect x="228.4" y="430.8" width="11" height="13.4" fill="#1a1a1a"/>
<rect x="230.5" y="440" width="6.8" height="3" fill="#3a3a3a"/>
<rect x="222" y="436" width="1.5" height="3" fill="#c8d0f0"/>
<rect x="227" y="448" width="13.8" height="17" fill="#7a7a7a"/>
<rect x="228.4" y="449.8" width="11" height="13.4" fill="#1a1a1a"/>
<rect x="230.5" y="459" width="6.8" height="3" fill="#3a3a3a"/>
<rect x="222" y="455" width="1.5" height="3" fill="#c8d0f0"/>
</g>
<g>
<defs><linearGradient id="pw" x1="0" y1="0" x2="0" y2="1"><stop offset="0" stop-color="#f4f4f4"/><stop offset="1" stop-color="#e4e4e4"/></linearGradient><linearGradient id="ts" x1="0" y1="0" x2="0" y2="1"><stop offset="0" stop-color="#8a8a8a"/><stop offset="0.5" stop-color="#b0b0b0"/><stop offset="1" stop-color="#c8c8c8"/></linearGradient><linearGradient id="bg2" x1="0" y1="0" x2="1" y2="0"><stop offset="0" stop-color="#e6dcc8"/><stop offset="1" stop-color="#d8cdb6"/></linearGradient></defs>
<polygon points="13.7,546 33,536.5 106,537.5 114,546 114,604 99,611 13.7,609" fill="#eeeeee"/>
<polygon points="33,536.5 106,537.5 114,546 99,547 13.7,546" fill="#f6f6f6"/>
<rect x="13.7" y="546" width="85.3" height="63" fill="#f2f2f2"/>
<polygon points="99,547 114,546 114,604 99,611" fill="#e2e2e2"/>
<line x1="102" y1="549" x2="102" y2="606" stroke="#d4d4d4" stroke-width="0.8"/>
<line x1="105" y1="549" x2="105" y2="606" stroke="#d4d4d4" stroke-width="0.8"/>
<line x1="108" y1="549" x2="108" y2="606" stroke="#d4d4d4" stroke-width="0.8"/>
<line x1="111" y1="549" x2="111" y2="606" stroke="#d4d4d4" stroke-width="0.8"/>
<rect x="31" y="546" width="68" height="23.6" fill="#b4b4ae"/>
<rect x="31" y="546" width="68" height="3" fill="#d8d8d2"/>
<rect x="31" y="563" width="68" height="6.6" fill="#c8c8c2"/>
<rect x="97" y="547" width="2.5" height="22" fill="#555"/>
<circle cx="34.5" cy="550.4" r="1.5" fill="#5a5a56"/>
<circle cx="39.7" cy="550.4" r="1.5" fill="#5a5a56"/>
<circle cx="44.9" cy="550.4" r="1.5" fill="#5a5a56"/>
<circle cx="50.1" cy="550.4" r="1.5" fill="#5a5a56"/>
<circle cx="55.3" cy="550.4" r="1.5" fill="#5a5a56"/>
<circle cx="60.5" cy="550.4" r="1.5" fill="#5a5a56"/>
<circle cx="65.7" cy="550.4" r="1.5" fill="#5a5a56"/>
<circle cx="70.9" cy="550.4" r="1.5" fill="#5a5a56"/>
<circle cx="76.1" cy="550.4" r="1.5" fill="#5a5a56"/>
<circle cx="81.3" cy="550.4" r="1.5" fill="#5a5a56"/>
<circle cx="86.5" cy="550.4" r="1.5" fill="#5a5a56"/>
<circle cx="91.7" cy="550.4" r="1.5" fill="#5a5a56"/>
<circle cx="36.5" cy="556.6" r="1.5" fill="#5a5a56"/>
<circle cx="41.7" cy="556.6" r="1.5" fill="#5a5a56"/>
<circle cx="46.9" cy="556.6" r="1.5" fill="#5a5a56"/>
<circle cx="52.1" cy="556.6" r="1.5" fill="#5a5a56"/>
<circle cx="57.3" cy="556.6" r="1.5" fill="#5a5a56"/>
<circle cx="62.5" cy="556.6" r="1.5" fill="#5a5a56"/>
<circle cx="67.7" cy="556.6" r="1.5" fill="#5a5a56"/>
<circle cx="72.9" cy="556.6" r="1.5" fill="#5a5a56"/>
<circle cx="78.1" cy="556.6" r="1.5" fill="#5a5a56"/>
<circle cx="83.3" cy="556.6" r="1.5" fill="#5a5a56"/>
<circle cx="88.5" cy="556.6" r="1.5" fill="#5a5a56"/>
<circle cx="93.7" cy="556.6" r="1.5" fill="#5a5a56"/>
<line x1="13.7" y1="587" x2="31" y2="587" stroke="#d8d8d8" stroke-width="0.8"/>
<rect x="13.7" y="562" width="9.3" height="21" fill="none" stroke="#cfcfcf" stroke-width="0.8"/>
<rect x="44.6" y="568" width="14.2" height="3" fill="#505050"/>
<rect x="44" y="586" width="14" height="1.5" fill="#999"/>
<line x1="67" y1="571" x2="82" y2="571" stroke="#666" stroke-width="2" stroke-dasharray="1.2,1"/>
<line x1="67" y1="589.5" x2="82" y2="589.5" stroke="#666" stroke-width="2" stroke-dasharray="1.2,1"/>
<line x1="86.3" y1="577.6" x2="86.3" y2="588" stroke="#444" stroke-width="1.6" stroke-dasharray="1.4,2"/>
<rect x="31.6" y="588" width="67.4" height="23.7" fill="#d0d0cc"/>
<rect x="31.6" y="588" width="67.4" height="2.2" fill="#707070"/>
<rect x="33" y="591" width="64" height="18" fill="#dcdcd8"/>
<rect x="35.0" y="593" width="3.2" height="13" fill="#b8b8b4"/>
<rect x="40.7" y="593" width="3.2" height="13" fill="#b8b8b4"/>
<rect x="46.4" y="593" width="3.2" height="13" fill="#b8b8b4"/>
<rect x="52.1" y="593" width="3.2" height="13" fill="#b8b8b4"/>
<rect x="57.8" y="593" width="3.2" height="13" fill="#b8b8b4"/>
<rect x="63.5" y="593" width="3.2" height="13" fill="#b8b8b4"/>
<rect x="69.2" y="593" width="3.2" height="13" fill="#b8b8b4"/>
<rect x="74.9" y="593" width="3.2" height="13" fill="#b8b8b4"/>
<rect x="80.6" y="593" width="3.2" height="13" fill="#b8b8b4"/>
<rect x="86.3" y="593" width="3.2" height="13" fill="#b8b8b4"/>
<rect x="92.0" y="593" width="3.2" height="13" fill="#b8b8b4"/>
<circle cx="94" cy="602" r="1.5" fill="#888"/>
<rect x="188" y="532" width="18" height="14" fill="#e2d8c4"/><rect x="188" y="532" width="18" height="3" fill="#efe8d8"/><rect x="195.2" y="537" width="2.5" height="4" fill="#6a6458"/>
<rect x="200" y="537" width="20" height="16" fill="#e2d8c4"/><rect x="200" y="537" width="20" height="3" fill="#efe8d8"/><rect x="208.0" y="542" width="2.5" height="4" fill="#6a6458"/>
<rect x="225" y="533" width="20" height="16" fill="#e2d8c4"/><rect x="225" y="533" width="20" height="3" fill="#efe8d8"/><rect x="233.0" y="538" width="2.5" height="4" fill="#6a6458"/>
<rect x="250" y="531" width="20" height="14" fill="#e2d8c4"/><rect x="250" y="531" width="20" height="3" fill="#efe8d8"/><rect x="258.0" y="536" width="2.5" height="4" fill="#6a6458"/>
<rect x="270" y="533" width="16" height="14" fill="#e2d8c4"/><rect x="270" y="533" width="16" height="3" fill="#efe8d8"/><rect x="276.4" y="538" width="2.5" height="4" fill="#6a6458"/>
<rect x="170" y="542" width="25" height="14" fill="#e2d8c4"/><rect x="170" y="542" width="25" height="3" fill="#efe8d8"/><rect x="180.0" y="547" width="2.5" height="4" fill="#6a6458"/>
<rect x="195" y="548" width="30" height="12" fill="#e2d8c4"/><rect x="195" y="548" width="30" height="3" fill="#efe8d8"/><rect x="207.0" y="553" width="2.5" height="4" fill="#6a6458"/>
<rect x="222" y="542" width="22" height="14" fill="#e2d8c4"/><rect x="222" y="542" width="22" height="3" fill="#efe8d8"/><rect x="230.8" y="547" width="2.5" height="4" fill="#6a6458"/>
<rect x="247" y="541" width="22" height="16" fill="#e2d8c4"/><rect x="247" y="541" width="22" height="3" fill="#efe8d8"/><rect x="255.8" y="546" width="2.5" height="4" fill="#6a6458"/>
<rect x="260" y="546" width="18" height="12" fill="#e2d8c4"/><rect x="260" y="546" width="18" height="3" fill="#efe8d8"/><rect x="267.2" y="551" width="2.5" height="4" fill="#6a6458"/>
<rect x="272" y="540" width="18" height="51" fill="url(#bg2)"/><rect x="280" y="546" width="3" height="16" fill="#4a4a40"/><rect x="276" y="566" width="4" height="20" fill="#2a2a2a"/>
<rect x="219" y="551" width="8" height="53" fill="#2a2a2a"/>
<rect x="225.7" y="548" width="20.3" height="55" fill="url(#bg2)"/><rect x="225.7" y="548" width="20.3" height="3" fill="#f0e8d8"/>
<rect x="228.6" y="576" width="5" height="24.8" fill="#2a2a2a"/><rect x="234" y="555" width="3" height="18" fill="#5a5a50"/>
<polygon points="159.5,556 166,553 222,553 222,612 159.5,612" fill="url(#bg2)"/>
<rect x="159.5" y="556" width="62.5" height="3" fill="#f0e8d8"/>
<rect x="160" y="569.5" width="51" height="4.5" fill="#3a5a90"/>
<rect x="191" y="582.6" width="21" height="8.7" fill="#3e6670"/>
<line x1="170" y1="575" x2="170" y2="600" stroke="#cfc4ae" stroke-width="0.8"/><line x1="190" y1="575" x2="190" y2="600" stroke="#cfc4ae" stroke-width="0.8"/>
<rect x="159.5" y="600" width="62.5" height="12" fill="#dcd2bc"/>
<rect x="240" y="556.4" width="36.6" height="60.4" fill="#e8dfcc"/>
<rect x="240" y="556.4" width="36.6" height="3" fill="#f4eee2"/>
<rect x="253" y="563.7" width="13.4" height="16.7" fill="#3e6670"/>
<rect x="253" y="582.6" width="5.5" height="32" fill="#222"/><rect x="260.5" y="582.6" width="5.5" height="32" fill="#222"/>
<rect x="243" y="564" width="6" height="2" fill="#4a6a80"/>
<polygon points="354.2,543.2 457.9,550.8 445.9,556.3 349.3,547.6" fill="#535d60"/>
<polygon points="349.3,547.6 445.9,556.3 444.8,606 349.3,594" fill="#3e484c"/>
<polygon points="445.9,556.3 458.5,551.4 459,599.4 444.8,606" fill="#262e32"/>
<line x1="365" y1="544.2" x2="361" y2="549.2" stroke="#30383c" stroke-width="1.2"/>
<line x1="377" y1="545.1" x2="373" y2="550.2" stroke="#30383c" stroke-width="1.2"/>
<line x1="390" y1="546.0" x2="386" y2="551.4" stroke="#30383c" stroke-width="1.2"/>
<line x1="402.5" y1="546.9" x2="398.5" y2="552.5" stroke="#30383c" stroke-width="1.2"/>
<line x1="419.4" y1="548.2" x2="415.4" y2="554.1" stroke="#30383c" stroke-width="1.2"/>
<line x1="432.5" y1="549.1" x2="428.5" y2="555.2" stroke="#30383c" stroke-width="1.2"/>
<line x1="444.5" y1="550.0" x2="440.5" y2="556.3" stroke="#30383c" stroke-width="1.2"/>
<line x1="373.8" y1="549.8" x2="373.8" y2="597.1" stroke="#2a3236" stroke-width="1.2"/>
<line x1="387" y1="551.0" x2="387" y2="598.7" stroke="#2a3236" stroke-width="1.2"/>
<line x1="399.5" y1="552.1" x2="399.5" y2="600.3" stroke="#2a3236" stroke-width="1.2"/>
<line x1="416.4" y1="553.6" x2="416.4" y2="602.4" stroke="#2a3236" stroke-width="1.2"/>
<line x1="429.5" y1="554.8" x2="429.5" y2="604.0" stroke="#2a3236" stroke-width="1.2"/>
<line x1="441.5" y1="555.9" x2="441.5" y2="605.5" stroke="#2a3236" stroke-width="1.2"/>
<polygon points="349.3,548 373,550 373,570 349.3,568" fill="#465054"/>
<polygon points="388.6,555.7 396.8,556.3 396.8,596.6 388.6,596" fill="#5cb6c6"/>
<polygon points="402.8,556.8 411,557.4 411,598.9 402.8,598.3" fill="#5cb6c6"/>
<polygon points="420.8,559.6 427.3,560.2 427.3,601.1 420.8,600.5" fill="#5cb6c6"/>
<polygon points="431.7,560.1 439.9,560.7 439.9,603.3 431.7,602.7" fill="#5cb6c6"/>
<rect x="351" y="560" width="4" height="3" fill="#a84848"/><circle cx="351.5" cy="569" r="1.5" fill="#111"/><circle cx="377" cy="570" r="1.5" fill="#111"/>
<rect x="379" y="553" width="7" height="2" fill="#6ab0c0"/>
</g>
<!-- lines -->
<g fill="none" stroke="#2e6a66" stroke-width="1.15">
<polyline points="437,283 487,231.5 668.5,231.5 723.5,178.6"/>
<polyline points="477,295 425,346.5 260.5,346.5 205.7,400.5"/>
<polyline points="693.5,168.8 735.6,120.5 873,120.5"/>
<polyline points="966.4,71.7 900.2,226.5 735.8,271.6 697.6,342"/>
<polyline points="973.5,151.4 973.5,351.7"/>
</g>
<line x1="307" y1="159" x2="358" y2="209.5" stroke="#5a8298" stroke-width="1.4" stroke-dasharray="3.5,3.5"/>




<!-- dots -->
<circle cx="693.5" cy="168.8" r="12" fill="url(#bd)"/>
<circle cx="723.5" cy="178.6" r="12" fill="url(#bd)"/>
<circle cx="698" cy="342" r="11.5" fill="url(#rd)"/>
<circle cx="437.4" cy="283" r="12" fill="url(#rd)"/>
<circle cx="477.3" cy="294.8" r="12" fill="url(#bd)"/>
<circle cx="205.7" cy="400.5" r="11.5" fill="url(#rd)"/>
<circle cx="966.4" cy="71.7" r="12" fill="url(#bd)"/>
<circle cx="972.5" cy="151.4" r="12" fill="url(#bd)"/>
</svg>

<div class="t" style="left:160px;top:198px;font-size:19px;color:#3470a0;">HiNet<span style="color:#5c7a92">智能网关</span></div>
<div class="t" style="left:572px;top:209px;font-size:16px;color:#6e6c50;">普通网线</div>
<div class="t" style="left:565px;top:238px;font-size:12.7px;color:#555;">WAN口接互联网</div>
<div class="t" style="left:938px;top:101px;font-size:20.5px;color:#2a7282;">Internet</div>
<div class="t" style="left:265px;top:326px;font-size:16px;color:#6e6c50;">普通网线</div>
<div class="t" style="left:265px;top:355px;font-size:12.5px;color:#444;">接PLC或其他以太网设备</div>
<div class="t" style="left:641px;top:535px;font-size:16.5px;color:#2a5a7a;font-weight:bold;">云服务中心</div>
<div class="t" style="left:560px;top:554px;width:246px;text-align:center;font-size:16px;line-height:20px;color:#2e6a84;">用于识别不同公司的<span style="color:#4a88b0">HiNet</span>智能网关<br>及管理员，并给其配对</div>
<div class="t" style="left:840px;top:539px;width:276px;text-align:center;font-size:16px;line-height:20px;color:#2e6a84;">远程监控室通过互联网监控现场触摸屏<br>或者组态画面，并对现场PLC进行远程<br>编程和程序上下载</div>
<div class="t" style="left:189px;top:640px;font-size:19px;color:#3a6a90;">各品牌PLC</div>
<div class="t" style="left:739px;top:245.5px;font-size:16px;letter-spacing:0.7px;color:#7a7452;transform:rotate(-14.7deg);transform-origin:8px 8px;">云服务器</div>
<div class="t" style="left:744.5px;top:269.5px;font-size:16px;line-height:20.8px;letter-spacing:0.2px;color:#707070;font-family:'Liberation Serif',serif;transform:rotate(-14.2deg);transform-origin:8px 10.4px;">作为网关和管理员的<br><span style="margin-left:2px">匹配对接中心</span></div>
<div class="t" style="left:997px;top:198px;font-size:16px;letter-spacing:3.2px;color:#6a6850;font-family:'Liberation Serif',serif;transform:rotate(90deg);transform-origin:0 0;">监控端接入互联网</div>
</body></html>
